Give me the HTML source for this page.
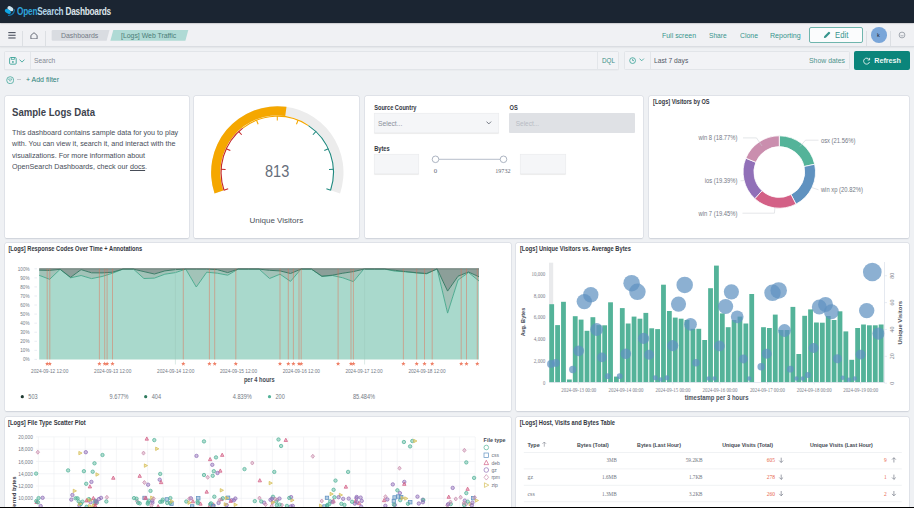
<!DOCTYPE html><html><head><meta charset='utf-8'><style>
*{box-sizing:border-box;margin:0;padding:0}
html,body{width:914px;height:508px;overflow:hidden;background:#eff1f4;font-family:"Liberation Sans", sans-serif;}
.a{position:absolute;white-space:nowrap}
.panel{position:absolute;background:#fff;border-radius:1.5px;box-shadow:0 0.5px 1.5px rgba(60,70,90,0.13),0 0 0 0.5px rgba(200,205,215,0.55)}
.pt{position:absolute;font-weight:bold;font-size:5.7px;color:#343741;white-space:nowrap}
</style></head><body><div class=a style="left:0;top:0;width:914px;height:23px;background:#1b2532;box-shadow:0 0.6px 1.5px rgba(0,0,0,0.35);z-index:2"></div><svg class=a style="left:0;top:0;z-index:3" width="20" height="20" viewBox="0 0 20 20">
<ellipse cx="10.4" cy="8.7" rx="3.2" ry="2.1" transform="rotate(32 10.4 8.7)" fill="#cde4f0"/>
<ellipse cx="7.9" cy="11.4" rx="3.3" ry="2.0" transform="rotate(32 7.9 11.4)" fill="#0ea5e4"/>
<path d="M8.6 15.3 Q13.6 15.2 14.5 9.8" fill="none" stroke="#1677ae" stroke-width="1.2" stroke-linecap="round"/>
</svg><div class=a style="z-index:3;left:16.5px;top:4.9px;font-size:10.8px;font-weight:bold;letter-spacing:-0.3px;transform:scaleX(0.765);transform-origin:0 0;line-height:12px">
<span style="color:#2ea4dc">Open</span><span style="color:#b2d4e6">Search</span> <span style="color:#dfe5ea">Dashboards</span></div><div class=a style="left:0;top:23px;width:914px;height:24.3px;background:#f0f1f4;border-bottom:0.9px solid #dadde2;box-shadow:0 0.8px 1.2px rgba(0,0,0,0.05)"></div><svg class=a style="left:7.5px;top:31.8px" width="8" height="7" viewBox="0 0 8 7"><rect x="0.3" y="0" width="7.3" height="1.15" fill="#535966"/><rect x="0.3" y="2.7" width="7.3" height="1.15" fill="#535966"/><rect x="0.3" y="5.4" width="7.3" height="1.15" fill="#535966"/></svg><div class=a style="left:22.3px;top:30.5px;width:0.6px;height:15.7px;background:#dcdfe3"></div><svg class=a style="left:30px;top:31.5px" width="8" height="7.5" viewBox="0 0 8 7.5"><path d="M0.9 6.9 L0.9 3.4 L4 0.7 L7.1 3.4 L7.1 6.9 Z" fill="none" stroke="#535966" stroke-width="0.85" stroke-linejoin="round"/></svg><div class=a style="left:45.2px;top:30.5px;width:0.6px;height:15.7px;background:#dcdfe3"></div><svg class=a style="left:51px;top:29.7px" width="140" height="11" viewBox="0 0 140 11">
<path d="M2 0 H58.5 L55.6 10.8 H2 Q0.6 10.8 0.6 9.4 V1.4 Q0.6 0 2 0Z" fill="#d9dce1"/>
<path d="M62.3 0 H137.3 L134.4 10.8 H59.4Z" fill="#afdad5"/>
</svg><div class=a style="left:61.3px;top:32.15px;font-size:7.7px;line-height:1;color:#737a86;font-weight:normal;transform:scaleX(0.9);transform-origin:0 0;">Dashboards</div><div class=a style="left:121.4px;top:32.15px;font-size:7.7px;line-height:1;color:#4b7d78;font-weight:normal;transform:scaleX(0.896);transform-origin:0 0;">[Logs] Web Traffic</div><div class=a style="left:662.1px;top:32.15px;font-size:7.7px;line-height:1;color:#37958d;font-weight:normal;transform:scaleX(0.905);transform-origin:0 0;">Full screen</div><div class=a style="left:709.2px;top:32.15px;font-size:7.7px;line-height:1;color:#37958d;font-weight:normal;transform:scaleX(0.857);transform-origin:0 0;">Share</div><div class=a style="left:739.5px;top:32.15px;font-size:7.7px;line-height:1;color:#37958d;font-weight:normal;transform:scaleX(0.895);transform-origin:0 0;">Clone</div><div class=a style="left:769.9px;top:32.15px;font-size:7.7px;line-height:1;color:#37958d;font-weight:normal;transform:scaleX(0.922);transform-origin:0 0;">Reporting</div><div class=a style="left:809px;top:27.2px;width:54.2px;height:15.6px;border:0.9px solid #6fb5ad;border-radius:2px;background:#fbfcfd"></div><svg class=a style="left:823.3px;top:31.3px" width="8" height="8" viewBox="0 0 8 8"><path d="M0.9 7.1 L1.2 5.2 L5.4 1 Q5.9 0.5 6.4 1 L7 1.6 Q7.5 2.1 7 2.6 L2.8 6.8 Z" fill="#37958d"/></svg><div class=a style="left:834.9px;top:31.30px;font-size:8.4px;line-height:1;color:#37958d;font-weight:normal;transform:scaleX(0.92);transform-origin:0 0;">Edit</div><div class=a style="left:866px;top:30.5px;width:0.6px;height:15.7px;background:#dcdfe3"></div><div class=a style="left:871px;top:27px;width:15.6px;height:15.6px;border-radius:50%;background:#7aa6d9"></div><div class=a style="left:877.0px;top:32.75px;font-size:5.5px;line-height:1;color:#1b2532;font-weight:normal;">k</div><div class=a style="left:890.3px;top:30.5px;width:0.6px;height:15.7px;background:#dcdfe3"></div><svg class=a style="left:898px;top:31px" width="8" height="8" viewBox="0 0 8 8"><circle cx="4" cy="4" r="2.9" fill="none" stroke="#8d939d" stroke-width="0.8"/><path d="M2.5 4.3 Q4 5.8 5.5 4.3" fill="none" stroke="#8d939d" stroke-width="0.7"/></svg><div class=a style="left:4.4px;top:50.6px;width:615px;height:19.6px;background:#f2f3f6;border:0.7px solid #e2e5e9;border-radius:1.5px;box-shadow:0 0.6px 0 rgba(0,0,0,0.04)"></div><div class=a style="left:29.8px;top:51.5px;width:0.6px;height:17.4px;background:#e3e6ea"></div><svg class=a style="left:8.6px;top:56.8px" width="8" height="8" viewBox="0 0 8 8"><rect x="0.6" y="0.6" width="6.6" height="6.6" rx="1" fill="none" stroke="#40a59b" stroke-width="0.9"/><rect x="2.3" y="0.6" width="3.2" height="2" fill="none" stroke="#40a59b" stroke-width="0.7"/><circle cx="3.9" cy="4.9" r="0.9" fill="#40a59b"/></svg><svg class=a style="left:19.2px;top:59.3px" width="6" height="4" viewBox="0 0 6 4"><path d="M0.5 0.6 L3 3.1 L5.5 0.6" fill="none" stroke="#40a59b" stroke-width="0.9"/></svg><div class=a style="left:33.6px;top:57.25px;font-size:7.5px;line-height:1;color:#858b95;font-weight:normal;transform:scaleX(0.893);transform-origin:0 0;">Search</div><div class=a style="left:597px;top:51.5px;width:0.6px;height:17.4px;background:#e3e6ea"></div><div class=a style="left:602.4px;top:57.40px;font-size:7.2px;line-height:1;color:#3b8f88;font-weight:normal;transform:scaleX(0.875);transform-origin:0 0;">DQL</div><div class=a style="left:623.8px;top:50.6px;width:226px;height:19.6px;background:#f2f3f6;border:0.7px solid #e2e5e9;border-radius:1.5px"></div><div class=a style="left:649.8px;top:51.5px;width:0.6px;height:17.4px;background:#e3e6ea"></div><svg class=a style="left:628.6px;top:57px" width="8" height="8" viewBox="0 0 8 8"><circle cx="3.6" cy="3.6" r="2.9" fill="none" stroke="#40a59b" stroke-width="0.85"/><path d="M3.6 1.8 V3.6 H5" fill="none" stroke="#40a59b" stroke-width="0.8"/></svg><svg class=a style="left:639px;top:58.3px" width="6" height="4" viewBox="0 0 6 4"><path d="M0.5 0.6 L2.7 2.8 L4.9 0.6" fill="none" stroke="#40a59b" stroke-width="0.85"/></svg><div class=a style="left:654.1px;top:57.25px;font-size:7.5px;line-height:1;color:#535966;font-weight:normal;transform:scaleX(0.893);transform-origin:0 0;">Last 7 days</div><div class=a style="left:809.2px;top:57.25px;font-size:7.5px;line-height:1;color:#4f938d;font-weight:normal;transform:scaleX(0.92);transform-origin:0 0;">Show dates</div><div class=a style="left:853.6px;top:50.9px;width:56.2px;height:18.7px;background:#0b857b;border-radius:2px"></div><svg class=a style="left:862.5px;top:56.5px" width="8" height="8" viewBox="0 0 8 8"><path d="M6.2 2.6 A3 3 0 1 0 6.5 5" fill="none" stroke="#e6f3f1" stroke-width="0.9"/><path d="M6.6 0.9 V3 H4.6" fill="none" stroke="#e6f3f1" stroke-width="0.9"/></svg><div class=a style="left:874.2px;top:57.40px;font-size:7.2px;line-height:1;color:#eef7f6;font-weight:bold;">Refresh</div><svg class=a style="left:5.5px;top:75.5px" width="8.5" height="8.5" viewBox="0 0 8.5 8.5"><circle cx="4.2" cy="4.2" r="3.5" fill="none" stroke="#57b0a6" stroke-width="0.9"/><path d="M2.4 3 H6 L4.2 5.3Z" fill="none" stroke="#57b0a6" stroke-width="0.7"/></svg><div class=a style="left:16.6px;top:79.3px;width:4px;height:0.6px;background:#c5c9d0"></div><div class=a style="left:25.9px;top:76.10px;font-size:7.8px;line-height:1;color:#2a8279;font-weight:normal;transform:scaleX(0.892);transform-origin:0 0;">+ Add filter</div><div class=panel style="left:5px;top:96px;width:184px;height:141.7px"></div><div class=panel style="left:194px;top:96px;width:165.3px;height:141.7px"></div><div class=panel style="left:365.2px;top:96px;width:278.3px;height:141.7px"></div><div class=panel style="left:649px;top:96px;width:260.3px;height:141.7px"></div><div class=panel style="left:5px;top:242.6px;width:506px;height:168.7px"></div><div class=panel style="left:516px;top:242.6px;width:393.3px;height:168.7px"></div><div class=panel style="left:5px;top:417.2px;width:506px;height:100px"></div><div class=panel style="left:516px;top:417.2px;width:393.3px;height:100px"></div><div class=a style="left:12.1px;top:107.90px;font-size:10.2px;line-height:1;color:#3d434d;font-weight:bold;transform:scaleX(0.94);transform-origin:0 0;">Sample Logs Data</div><div class=a style="left:12.1px;top:129.25px;font-size:7.5px;line-height:1;color:#474d58;font-weight:normal;transform:scaleX(0.956);transform-origin:0 0;">This dashboard contains sample data for you to play</div><div class=a style="left:12.1px;top:140.25px;font-size:7.5px;line-height:1;color:#474d58;font-weight:normal;transform:scaleX(0.956);transform-origin:0 0;">with. You can view it, search it, and interact with the</div><div class=a style="left:12.1px;top:152.25px;font-size:7.5px;line-height:1;color:#474d58;font-weight:normal;transform:scaleX(0.956);transform-origin:0 0;">visualizations. For more information about</div><div class=a style="left:12.1px;top:163.25px;font-size:7.5px;line-height:1;color:#474d58;font-weight:normal;transform:scaleX(0.956);transform-origin:0 0;">OpenSearch Dashboards, check our <span style="text-decoration:underline">docs</span>.</div><svg class=a style="left:0;top:0" width="914" height="508" viewBox="0 0 914 508"><path d="M214.52 193.41 A66.2 66.2 0 1 1 340.08 193.41 L331.35 190.49 A57 57 0 1 0 223.25 190.49Z" fill="#ececec"/><path d="M214.52 193.41 A66.2 66.2 0 0 1 286.51 106.84 L285.23 115.95 A57 57 0 0 0 223.25 190.49Z" fill="#f5a700"/><path d="M224.00 190.23 A56.2 56.2 0 0 1 242.72 128.10" fill="none" stroke="#c4292a" stroke-width="1.15"/><path d="M242.72 128.10 A56.2 56.2 0 0 1 308.43 125.61" fill="none" stroke="#f5a700" stroke-width="1.15"/><path d="M308.43 125.61 A56.2 56.2 0 0 1 330.60 190.23" fill="none" stroke="#21897f" stroke-width="1.15"/><line x1="223.81" y1="190.30" x2="228.18" y2="188.84" stroke="#c4292a" stroke-width="1.05"/><line x1="220.99" y1="169.25" x2="225.58" y2="169.51" stroke="#c4292a" stroke-width="1.05"/><line x1="226.14" y1="148.65" x2="230.32" y2="150.59" stroke="#c4292a" stroke-width="1.05"/><line x1="238.55" y1="131.42" x2="241.71" y2="134.76" stroke="#c4292a" stroke-width="1.05"/><line x1="256.45" y1="120.00" x2="258.15" y2="124.27" stroke="#f5a700" stroke-width="1.05"/><line x1="277.30" y1="116.00" x2="277.30" y2="120.60" stroke="#f5a700" stroke-width="1.05"/><line x1="298.15" y1="120.00" x2="296.45" y2="124.27" stroke="#f5a700" stroke-width="1.05"/><line x1="316.05" y1="131.42" x2="312.89" y2="134.76" stroke="#21897f" stroke-width="1.05"/><line x1="328.46" y1="148.65" x2="324.28" y2="150.59" stroke="#21897f" stroke-width="1.05"/><line x1="333.61" y1="169.25" x2="329.02" y2="169.51" stroke="#21897f" stroke-width="1.05"/><line x1="330.79" y1="190.30" x2="326.42" y2="188.84" stroke="#21897f" stroke-width="1.05"/></svg><div class=a style="left:264.8px;top:163.70px;font-size:16.6px;line-height:1;color:#666d7a;font-weight:normal;transform:scaleX(0.875);transform-origin:0 0;">813</div><div class=a style="left:249.6px;top:217.00px;font-size:7.99px;line-height:1;color:#4a505b;font-weight:normal;">Unique Visitors</div><div class=a style="left:373.6px;top:113.4px;width:125px;height:19.3px;background:#f5f6f8;border-radius:1px;box-shadow:0 0.6px 0.8px rgba(0,0,0,0.08), inset 0 0 0 0.5px rgba(0,0,0,0.05)"></div><div class=a style="left:377.9px;top:119.6px;font-size:6.78px;color:#8b919b;line-height:8px">Select...</div><svg class=a style="left:485.7px;top:121.3px" width="6" height="4" viewBox="0 0 6 4"><path d="M0.5 0.6 L2.8 2.9 L5.1 0.6" fill="none" stroke="#535966" stroke-width="0.8"/></svg><div class=a style="left:509px;top:113.4px;width:125.6px;height:19.3px;background:#dfe1e5;border-radius:1px"></div><div class=a style="left:515.7px;top:119.6px;font-size:6.5px;color:#b7bcc4;line-height:8px">Select...</div><div class=a style="left:373.6px;top:154.1px;width:45.6px;height:19.6px;background:#f5f6f8;border-radius:1px;box-shadow:0 0.6px 0.8px rgba(0,0,0,0.08), inset 0 0 0 0.5px rgba(0,0,0,0.05)"></div><div class=a style="left:520.3px;top:154.1px;width:45.4px;height:19.6px;background:#f5f6f8;border-radius:1px;box-shadow:0 0.6px 0.8px rgba(0,0,0,0.08), inset 0 0 0 0.5px rgba(0,0,0,0.05)"></div><svg class=a style="left:0;top:0" width="914" height="508" viewBox="0 0 914 508">
<line x1="438.9" y1="159.3" x2="500.1" y2="159.3" stroke="#98a2b3" stroke-width="0.7"/>
<circle cx="435.5" cy="159.3" r="3.3" fill="#fff" stroke="#98a2b3" stroke-width="0.8"/>
<circle cx="503.5" cy="159.3" r="3.3" fill="#fff" stroke="#98a2b3" stroke-width="0.8"/>
<text x="435.5" y="172.6" font-size="6.8" fill="#626874" text-anchor="middle" font-family="Liberation Serif">0</text>
<text x="502.9" y="172.6" font-size="6.8" fill="#626874" text-anchor="middle" font-family="Liberation Serif" textLength="15.3" lengthAdjust="spacingAndGlyphs">19732</text>
</svg><svg class=a style="left:0;top:0" width="914" height="508" viewBox="0 0 914 508" font-family="Liberation Sans"><text x="653.10" y="103.50" font-size="6.4" fill="#343741" text-anchor="start" font-weight="bold"  textLength="56.5" lengthAdjust="spacingAndGlyphs">[Logs] Visitors by OS</text><text x="8.40" y="251.20" font-size="6.4" fill="#343741" text-anchor="start" font-weight="bold"  textLength="133.8" lengthAdjust="spacingAndGlyphs">[Logs] Response Codes Over Time + Annotations</text><text x="519.90" y="251.20" font-size="6.4" fill="#343741" text-anchor="start" font-weight="bold"  textLength="111" lengthAdjust="spacingAndGlyphs">[Logs] Unique Visitors vs. Average Bytes</text><text x="8.10" y="425.40" font-size="6.4" fill="#343741" text-anchor="start" font-weight="bold"  textLength="77.7" lengthAdjust="spacingAndGlyphs">[Logs] File Type Scatter Plot</text><text x="519.80" y="425.20" font-size="6.4" fill="#343741" text-anchor="start" font-weight="bold"  textLength="95.2" lengthAdjust="spacingAndGlyphs">[Logs] Host, Visits and Bytes Table</text><text x="374.20" y="110.20" font-size="6.3" fill="#343741" text-anchor="start" font-weight="bold"  textLength="42.3" lengthAdjust="spacingAndGlyphs">Source Country</text><text x="509.60" y="110.20" font-size="6.3" fill="#343741" text-anchor="start" font-weight="bold"  textLength="8.19" lengthAdjust="spacingAndGlyphs">OS</text><text x="374.20" y="150.90" font-size="6.3" fill="#343741" text-anchor="start" font-weight="bold"  textLength="15.44" lengthAdjust="spacingAndGlyphs">Bytes</text><path d="M779.30 135.80 A36.2 36.2 0 0 1 814.66 164.24 L804.11 166.56 A25.4 25.4 0 0 0 779.30 146.60Z" fill="#54b399" stroke="#fff" stroke-width="0.8"/><path d="M814.66 164.24 A36.2 36.2 0 0 1 795.97 204.13 L791.00 194.55 A25.4 25.4 0 0 0 804.11 166.56Z" fill="#6092c0" stroke="#fff" stroke-width="0.8"/><path d="M795.97 204.13 A36.2 36.2 0 0 1 754.79 198.64 L762.10 190.69 A25.4 25.4 0 0 0 791.00 194.55Z" fill="#d36086" stroke="#fff" stroke-width="0.8"/><path d="M754.79 198.64 A36.2 36.2 0 0 1 745.84 158.19 L755.82 162.31 A25.4 25.4 0 0 0 762.10 190.69Z" fill="#9170b8" stroke="#fff" stroke-width="0.8"/><path d="M745.84 158.19 A36.2 36.2 0 0 1 779.30 135.80 L779.30 146.60 A25.4 25.4 0 0 0 755.82 162.31Z" fill="#ca8eae" stroke="#fff" stroke-width="0.8"/><polyline points="743,137.9 756.5,137.9 762,146" fill="none" stroke="#c8ccd3" stroke-width="0.5"/><polyline points="818.5,140.2 805.5,140.2 800,146.5" fill="none" stroke="#c8ccd3" stroke-width="0.5"/><polyline points="740.5,180.8 745,180.5" fill="none" stroke="#c8ccd3" stroke-width="0.5"/><polyline points="818.5,189.8 812,187.6" fill="none" stroke="#c8ccd3" stroke-width="0.5"/><polyline points="742.5,213.2 774.4,213.2 775,207" fill="none" stroke="#c8ccd3" stroke-width="0.5"/><text x="737.50" y="140.30" font-size="6.5" fill="#737985" text-anchor="end" font-weight="normal"  textLength="39.02" lengthAdjust="spacingAndGlyphs">win 8 (18.77%)</text><text x="820.90" y="142.60" font-size="6.5" fill="#737985" text-anchor="start" font-weight="normal"  textLength="34.47" lengthAdjust="spacingAndGlyphs">osx (21.56%)</text><text x="737.50" y="183.20" font-size="6.5" fill="#737985" text-anchor="end" font-weight="normal"  textLength="32.84" lengthAdjust="spacingAndGlyphs">ios (19.39%)</text><text x="820.90" y="192.20" font-size="6.5" fill="#737985" text-anchor="start" font-weight="normal"  textLength="41.94" lengthAdjust="spacingAndGlyphs">win xp (20.82%)</text><text x="737.50" y="215.60" font-size="6.5" fill="#737985" text-anchor="end" font-weight="normal"  textLength="39.02" lengthAdjust="spacingAndGlyphs">win 7 (19.45%)</text><text x="29.50" y="361.30" font-size="5.2" fill="#737985" text-anchor="end" font-weight="normal"  textLength="6.61" lengthAdjust="spacingAndGlyphs">0%</text><line x1="34.4" y1="359.40" x2="37" y2="359.40" stroke="#d3dae6" stroke-width="0.5"/><text x="29.50" y="352.24" font-size="5.2" fill="#737985" text-anchor="end" font-weight="normal"  textLength="9.16" lengthAdjust="spacingAndGlyphs">10%</text><line x1="34.4" y1="350.34" x2="37" y2="350.34" stroke="#d3dae6" stroke-width="0.5"/><text x="29.50" y="343.18" font-size="5.2" fill="#737985" text-anchor="end" font-weight="normal"  textLength="9.16" lengthAdjust="spacingAndGlyphs">20%</text><line x1="34.4" y1="341.28" x2="37" y2="341.28" stroke="#d3dae6" stroke-width="0.5"/><text x="29.50" y="334.12" font-size="5.2" fill="#737985" text-anchor="end" font-weight="normal"  textLength="9.16" lengthAdjust="spacingAndGlyphs">30%</text><line x1="34.4" y1="332.22" x2="37" y2="332.22" stroke="#d3dae6" stroke-width="0.5"/><text x="29.50" y="325.06" font-size="5.2" fill="#737985" text-anchor="end" font-weight="normal"  textLength="9.16" lengthAdjust="spacingAndGlyphs">40%</text><line x1="34.4" y1="323.16" x2="37" y2="323.16" stroke="#d3dae6" stroke-width="0.5"/><text x="29.50" y="316.00" font-size="5.2" fill="#737985" text-anchor="end" font-weight="normal"  textLength="9.16" lengthAdjust="spacingAndGlyphs">50%</text><line x1="34.4" y1="314.10" x2="37" y2="314.10" stroke="#d3dae6" stroke-width="0.5"/><text x="29.50" y="306.94" font-size="5.2" fill="#737985" text-anchor="end" font-weight="normal"  textLength="9.16" lengthAdjust="spacingAndGlyphs">60%</text><line x1="34.4" y1="305.04" x2="37" y2="305.04" stroke="#d3dae6" stroke-width="0.5"/><text x="29.50" y="297.88" font-size="5.2" fill="#737985" text-anchor="end" font-weight="normal"  textLength="9.16" lengthAdjust="spacingAndGlyphs">70%</text><line x1="34.4" y1="295.98" x2="37" y2="295.98" stroke="#d3dae6" stroke-width="0.5"/><text x="29.50" y="288.82" font-size="5.2" fill="#737985" text-anchor="end" font-weight="normal"  textLength="9.16" lengthAdjust="spacingAndGlyphs">80%</text><line x1="34.4" y1="286.92" x2="37" y2="286.92" stroke="#d3dae6" stroke-width="0.5"/><text x="29.50" y="279.76" font-size="5.2" fill="#737985" text-anchor="end" font-weight="normal"  textLength="9.16" lengthAdjust="spacingAndGlyphs">90%</text><line x1="34.4" y1="277.86" x2="37" y2="277.86" stroke="#d3dae6" stroke-width="0.5"/><text x="29.50" y="270.70" font-size="5.2" fill="#737985" text-anchor="end" font-weight="normal"  textLength="11.7" lengthAdjust="spacingAndGlyphs">100%</text><line x1="34.4" y1="268.80" x2="37" y2="268.80" stroke="#d3dae6" stroke-width="0.5"/><polygon points="39.2,359.4 39.20,275.30 49.67,279.30 60.14,269.30 70.61,277.80 81.09,275.50 91.56,278.60 102.03,276.50 112.50,273.20 122.97,269.10 133.44,269.10 143.91,278.50 154.39,278.10 164.86,274.20 175.33,272.60 185.80,269.10 196.27,287.00 206.74,272.20 217.21,273.20 227.69,275.20 238.16,269.10 248.63,269.10 259.10,269.10 269.57,278.50 280.04,274.20 290.51,281.40 300.99,269.10 311.46,269.10 321.93,276.50 332.40,275.50 342.87,277.80 353.34,281.60 363.81,269.10 374.29,269.10 384.76,269.10 395.23,271.20 405.70,271.80 416.17,272.90 426.64,273.80 437.11,268.90 447.59,313.10 458.06,280.00 468.53,272.50 479.00,281.00 479.0,359.4" fill="#a9d9cc"/><polygon points="39.20,275.30 49.67,279.30 60.14,269.30 70.61,277.80 81.09,275.50 91.56,278.60 102.03,276.50 112.50,273.20 122.97,269.10 133.44,269.10 143.91,278.50 154.39,278.10 164.86,274.20 175.33,272.60 185.80,269.10 196.27,287.00 206.74,272.20 217.21,273.20 227.69,275.20 238.16,269.10 248.63,269.10 259.10,269.10 269.57,278.50 280.04,274.20 290.51,281.40 300.99,269.10 311.46,269.10 321.93,276.50 332.40,275.50 342.87,277.80 353.34,281.60 363.81,269.10 374.29,269.10 384.76,269.10 395.23,271.20 405.70,271.80 416.17,272.90 426.64,273.80 437.11,268.90 447.59,313.10 458.06,280.00 468.53,272.50 479.00,281.00 479.00,276.80 468.53,272.00 458.06,276.20 447.59,291.10 437.11,268.90 426.64,273.50 416.17,272.70 405.70,271.60 395.23,270.30 384.76,269.10 374.29,269.10 363.81,269.10 353.34,271.60 342.87,273.20 332.40,275.20 321.93,276.20 311.46,269.10 300.99,269.10 290.51,273.50 280.04,270.90 269.57,270.30 259.10,269.10 248.63,269.10 238.16,269.10 227.69,272.60 217.21,269.60 206.74,269.10 196.27,269.10 185.80,269.10 175.33,269.60 164.86,270.90 154.39,274.00 143.91,271.60 133.44,269.10 122.97,269.10 112.50,272.20 102.03,272.90 91.56,272.80 81.09,269.60 70.61,277.30 60.14,269.30 49.67,270.40 39.20,270.20" fill="#a2c3b8"/><polygon points="39.2,268.8 479.0,268.8 479.00,276.80 468.53,272.00 458.06,276.20 447.59,291.10 437.11,268.90 426.64,273.50 416.17,272.70 405.70,271.60 395.23,270.30 384.76,269.10 374.29,269.10 363.81,269.10 353.34,271.60 342.87,273.20 332.40,275.20 321.93,276.20 311.46,269.10 300.99,269.10 290.51,273.50 280.04,270.90 269.57,270.30 259.10,269.10 248.63,269.10 238.16,269.10 227.69,272.60 217.21,269.60 206.74,269.10 196.27,269.10 185.80,269.10 175.33,269.60 164.86,270.90 154.39,274.00 143.91,271.60 133.44,269.10 122.97,269.10 112.50,272.20 102.03,272.90 91.56,272.80 81.09,269.60 70.61,277.30 60.14,269.30 49.67,270.40 39.20,270.20" fill="#8c9f99"/><polyline points="39.20,275.30 49.67,279.30 60.14,269.30 70.61,277.80 81.09,275.50 91.56,278.60 102.03,276.50 112.50,273.20 122.97,269.10 133.44,269.10 143.91,278.50 154.39,278.10 164.86,274.20 175.33,272.60 185.80,269.10 196.27,287.00 206.74,272.20 217.21,273.20 227.69,275.20 238.16,269.10 248.63,269.10 259.10,269.10 269.57,278.50 280.04,274.20 290.51,281.40 300.99,269.10 311.46,269.10 321.93,276.50 332.40,275.50 342.87,277.80 353.34,281.60 363.81,269.10 374.29,269.10 384.76,269.10 395.23,271.20 405.70,271.80 416.17,272.90 426.64,273.80 437.11,268.90 447.59,313.10 458.06,280.00 468.53,272.50 479.00,281.00" fill="none" stroke="#4fac91" stroke-width="1.0"/><polyline points="39.20,270.20 49.67,270.40 60.14,269.30 70.61,277.30 81.09,269.60 91.56,272.80 102.03,272.90 112.50,272.20 122.97,269.10 133.44,269.10 143.91,271.60 154.39,274.00 164.86,270.90 175.33,269.60 185.80,269.10 196.27,269.10 206.74,269.10 217.21,269.60 227.69,272.60 238.16,269.10 248.63,269.10 259.10,269.10 269.57,270.30 280.04,270.90 290.51,273.50 300.99,269.10 311.46,269.10 321.93,276.20 332.40,275.20 342.87,273.20 353.34,271.60 363.81,269.10 374.29,269.10 384.76,269.10 395.23,270.30 405.70,271.60 416.17,272.70 426.64,273.50 437.11,268.90 447.59,291.10 458.06,276.20 468.53,272.00 479.00,276.80" fill="none" stroke="#3c7d68" stroke-width="1.0"/><line x1="39.2" y1="268.8" x2="479.0" y2="268.8" stroke="#5f6f6a" stroke-width="0.9"/><line x1="175.4" y1="268.8" x2="175.4" y2="364.5" stroke="#98c2b5" stroke-width="0.35"/><line x1="364.6" y1="268.8" x2="364.6" y2="364.5" stroke="#98c2b5" stroke-width="0.35"/><line x1="47.2" y1="268.8" x2="47.2" y2="359.4" stroke="#e7664c" stroke-opacity="0.6" stroke-width="0.75"/><polygon points="47.20,361.50 47.79,362.99 49.39,363.09 48.15,364.11 48.55,365.66 47.20,364.80 45.85,365.66 46.25,364.11 45.01,363.09 46.61,362.99" fill="#ee7f66"/><line x1="49.8" y1="268.8" x2="49.8" y2="359.4" stroke="#e7664c" stroke-opacity="0.6" stroke-width="0.75"/><polygon points="49.80,361.50 50.39,362.99 51.99,363.09 50.75,364.11 51.15,365.66 49.80,364.80 48.45,365.66 48.85,364.11 47.61,363.09 49.21,362.99" fill="#ee7f66"/><line x1="99.4" y1="268.8" x2="99.4" y2="359.4" stroke="#e7664c" stroke-opacity="0.6" stroke-width="0.75"/><polygon points="99.40,361.50 99.99,362.99 101.59,363.09 100.35,364.11 100.75,365.66 99.40,364.80 98.05,365.66 98.45,364.11 97.21,363.09 98.81,362.99" fill="#ee7f66"/><line x1="104.7" y1="268.8" x2="104.7" y2="359.4" stroke="#e7664c" stroke-opacity="0.6" stroke-width="0.75"/><polygon points="104.70,361.50 105.29,362.99 106.89,363.09 105.65,364.11 106.05,365.66 104.70,364.80 103.35,365.66 103.75,364.11 102.51,363.09 104.11,362.99" fill="#ee7f66"/><line x1="107.1" y1="268.8" x2="107.1" y2="359.4" stroke="#e7664c" stroke-opacity="0.6" stroke-width="0.75"/><polygon points="107.10,361.50 107.69,362.99 109.29,363.09 108.05,364.11 108.45,365.66 107.10,364.80 105.75,365.66 106.15,364.11 104.91,363.09 106.51,362.99" fill="#ee7f66"/><line x1="112.5" y1="268.8" x2="112.5" y2="359.4" stroke="#e7664c" stroke-opacity="0.6" stroke-width="0.75"/><polygon points="112.50,361.50 113.09,362.99 114.69,363.09 113.45,364.11 113.85,365.66 112.50,364.80 111.15,365.66 111.55,364.11 110.31,363.09 111.91,362.99" fill="#ee7f66"/><line x1="183.3" y1="268.8" x2="183.3" y2="359.4" stroke="#e7664c" stroke-opacity="0.6" stroke-width="0.75"/><polygon points="183.30,361.50 183.89,362.99 185.49,363.09 184.25,364.11 184.65,365.66 183.30,364.80 181.95,365.66 182.35,364.11 181.11,363.09 182.71,362.99" fill="#ee7f66"/><line x1="209.4" y1="268.8" x2="209.4" y2="359.4" stroke="#e7664c" stroke-opacity="0.6" stroke-width="0.75"/><polygon points="209.40,361.50 209.99,362.99 211.59,363.09 210.35,364.11 210.75,365.66 209.40,364.80 208.05,365.66 208.45,364.11 207.21,363.09 208.81,362.99" fill="#ee7f66"/><line x1="214.7" y1="268.8" x2="214.7" y2="359.4" stroke="#e7664c" stroke-opacity="0.6" stroke-width="0.75"/><polygon points="214.70,361.50 215.29,362.99 216.89,363.09 215.65,364.11 216.05,365.66 214.70,364.80 213.35,365.66 213.75,364.11 212.51,363.09 214.11,362.99" fill="#ee7f66"/><line x1="235.8" y1="268.8" x2="235.8" y2="359.4" stroke="#e7664c" stroke-opacity="0.6" stroke-width="0.75"/><polygon points="235.80,361.50 236.39,362.99 237.99,363.09 236.75,364.11 237.15,365.66 235.80,364.80 234.45,365.66 234.85,364.11 233.61,363.09 235.21,362.99" fill="#ee7f66"/><line x1="280" y1="268.8" x2="280" y2="359.4" stroke="#e7664c" stroke-opacity="0.6" stroke-width="0.75"/><polygon points="280.00,361.50 280.59,362.99 282.19,363.09 280.95,364.11 281.35,365.66 280.00,364.80 278.65,365.66 279.05,364.11 277.81,363.09 279.41,362.99" fill="#ee7f66"/><line x1="288.3" y1="268.8" x2="288.3" y2="359.4" stroke="#e7664c" stroke-opacity="0.6" stroke-width="0.75"/><polygon points="288.30,361.50 288.89,362.99 290.49,363.09 289.25,364.11 289.65,365.66 288.30,364.80 286.95,365.66 287.35,364.11 286.11,363.09 287.71,362.99" fill="#ee7f66"/><line x1="293.4" y1="268.8" x2="293.4" y2="359.4" stroke="#e7664c" stroke-opacity="0.6" stroke-width="0.75"/><polygon points="293.40,361.50 293.99,362.99 295.59,363.09 294.35,364.11 294.75,365.66 293.40,364.80 292.05,365.66 292.45,364.11 291.21,363.09 292.81,362.99" fill="#ee7f66"/><line x1="299" y1="268.8" x2="299" y2="359.4" stroke="#e7664c" stroke-opacity="0.6" stroke-width="0.75"/><polygon points="299.00,361.50 299.59,362.99 301.19,363.09 299.95,364.11 300.35,365.66 299.00,364.80 297.65,365.66 298.05,364.11 296.81,363.09 298.41,362.99" fill="#ee7f66"/><line x1="301.2" y1="268.8" x2="301.2" y2="359.4" stroke="#e7664c" stroke-opacity="0.6" stroke-width="0.75"/><polygon points="301.20,361.50 301.79,362.99 303.39,363.09 302.15,364.11 302.55,365.66 301.20,364.80 299.85,365.66 300.25,364.11 299.01,363.09 300.61,362.99" fill="#ee7f66"/><line x1="338.1" y1="268.8" x2="338.1" y2="359.4" stroke="#e7664c" stroke-opacity="0.6" stroke-width="0.75"/><polygon points="338.10,361.50 338.69,362.99 340.29,363.09 339.05,364.11 339.45,365.66 338.10,364.80 336.75,365.66 337.15,364.11 335.91,363.09 337.51,362.99" fill="#ee7f66"/><line x1="351" y1="268.8" x2="351" y2="359.4" stroke="#e7664c" stroke-opacity="0.6" stroke-width="0.75"/><polygon points="351.00,361.50 351.59,362.99 353.19,363.09 351.95,364.11 352.35,365.66 351.00,364.80 349.65,365.66 350.05,364.11 348.81,363.09 350.41,362.99" fill="#ee7f66"/><line x1="353.4" y1="268.8" x2="353.4" y2="359.4" stroke="#e7664c" stroke-opacity="0.6" stroke-width="0.75"/><polygon points="353.40,361.50 353.99,362.99 355.59,363.09 354.35,364.11 354.75,365.66 353.40,364.80 352.05,365.66 352.45,364.11 351.21,363.09 352.81,362.99" fill="#ee7f66"/><line x1="403.4" y1="268.8" x2="403.4" y2="359.4" stroke="#e7664c" stroke-opacity="0.6" stroke-width="0.75"/><polygon points="403.40,361.50 403.99,362.99 405.59,363.09 404.35,364.11 404.75,365.66 403.40,364.80 402.05,365.66 402.45,364.11 401.21,363.09 402.81,362.99" fill="#ee7f66"/><line x1="416.7" y1="268.8" x2="416.7" y2="359.4" stroke="#e7664c" stroke-opacity="0.6" stroke-width="0.75"/><polygon points="416.70,361.50 417.29,362.99 418.89,363.09 417.65,364.11 418.05,365.66 416.70,364.80 415.35,365.66 415.75,364.11 414.51,363.09 416.11,362.99" fill="#ee7f66"/><line x1="424.5" y1="268.8" x2="424.5" y2="359.4" stroke="#e7664c" stroke-opacity="0.6" stroke-width="0.75"/><polygon points="424.50,361.50 425.09,362.99 426.69,363.09 425.45,364.11 425.85,365.66 424.50,364.80 423.15,365.66 423.55,364.11 422.31,363.09 423.91,362.99" fill="#ee7f66"/><line x1="432.2" y1="268.8" x2="432.2" y2="359.4" stroke="#e7664c" stroke-opacity="0.6" stroke-width="0.75"/><polygon points="432.20,361.50 432.79,362.99 434.39,363.09 433.15,364.11 433.55,365.66 432.20,364.80 430.85,365.66 431.25,364.11 430.01,363.09 431.61,362.99" fill="#ee7f66"/><line x1="461.2" y1="268.8" x2="461.2" y2="359.4" stroke="#e7664c" stroke-opacity="0.6" stroke-width="0.75"/><polygon points="461.20,361.50 461.79,362.99 463.39,363.09 462.15,364.11 462.55,365.66 461.20,364.80 459.85,365.66 460.25,364.11 459.01,363.09 460.61,362.99" fill="#ee7f66"/><line x1="466.5" y1="268.8" x2="466.5" y2="359.4" stroke="#e7664c" stroke-opacity="0.6" stroke-width="0.75"/><polygon points="466.50,361.50 467.09,362.99 468.69,363.09 467.45,364.11 467.85,365.66 466.50,364.80 465.15,365.66 465.55,364.11 464.31,363.09 465.91,362.99" fill="#ee7f66"/><line x1="477.3" y1="268.8" x2="477.3" y2="359.4" stroke="#e7664c" stroke-opacity="0.6" stroke-width="0.75"/><polygon points="477.30,361.50 477.89,362.99 479.49,363.09 478.25,364.11 478.65,365.66 477.30,364.80 475.95,365.66 476.35,364.11 475.11,363.09 476.71,362.99" fill="#ee7f66"/><text x="49.70" y="373.40" font-size="5.2" fill="#737985" text-anchor="middle" font-weight="normal"  textLength="37.24" lengthAdjust="spacingAndGlyphs">2024-09-12 12:00</text><text x="112.70" y="373.40" font-size="5.2" fill="#737985" text-anchor="middle" font-weight="normal"  textLength="37.24" lengthAdjust="spacingAndGlyphs">2024-09-13 12:00</text><text x="175.70" y="373.40" font-size="5.2" fill="#737985" text-anchor="middle" font-weight="normal"  textLength="37.24" lengthAdjust="spacingAndGlyphs">2024-09-14 12:00</text><text x="238.50" y="373.40" font-size="5.2" fill="#737985" text-anchor="middle" font-weight="normal"  textLength="37.24" lengthAdjust="spacingAndGlyphs">2024-09-15 12:00</text><text x="301.30" y="373.40" font-size="5.2" fill="#737985" text-anchor="middle" font-weight="normal"  textLength="37.24" lengthAdjust="spacingAndGlyphs">2024-09-16 12:00</text><text x="364.00" y="373.40" font-size="5.2" fill="#737985" text-anchor="middle" font-weight="normal"  textLength="37.24" lengthAdjust="spacingAndGlyphs">2024-09-17 12:00</text><text x="427.00" y="373.40" font-size="5.2" fill="#737985" text-anchor="middle" font-weight="normal"  textLength="37.24" lengthAdjust="spacingAndGlyphs">2024-09-18 12:00</text><text x="259.30" y="381.80" font-size="6.4" fill="#454b56" text-anchor="middle" font-weight="bold"  textLength="30.8" lengthAdjust="spacingAndGlyphs">per 4 hours</text><circle cx="22.3" cy="396.7" r="1.6" fill="#1e3a30"/><text x="28.30" y="399.20" font-size="6.4" fill="#747a85" text-anchor="start" font-weight="normal"  textLength="9.34" lengthAdjust="spacingAndGlyphs">503</text><text x="128.60" y="399.20" font-size="6.4" fill="#747a85" text-anchor="end" font-weight="normal"  textLength="18.99" lengthAdjust="spacingAndGlyphs">9.677%</text><circle cx="145.7" cy="396.7" r="1.6" fill="#2f7a5e"/><text x="151.70" y="399.20" font-size="6.4" fill="#747a85" text-anchor="start" font-weight="normal"  textLength="9.34" lengthAdjust="spacingAndGlyphs">404</text><text x="251.80" y="399.20" font-size="6.4" fill="#747a85" text-anchor="end" font-weight="normal"  textLength="18.99" lengthAdjust="spacingAndGlyphs">4.839%</text><circle cx="269.5" cy="396.7" r="1.6" fill="#54b399"/><text x="275.50" y="399.20" font-size="6.4" fill="#747a85" text-anchor="start" font-weight="normal"  textLength="9.34" lengthAdjust="spacingAndGlyphs">200</text><text x="375.00" y="399.20" font-size="6.4" fill="#747a85" text-anchor="end" font-weight="normal"  textLength="22.11" lengthAdjust="spacingAndGlyphs">85.484%</text><rect x="549" y="262.7" width="4.2" height="119.5" fill="#e9eaec"/><text x="545.30" y="384.80" font-size="6.0" fill="#7a808a" text-anchor="end" font-weight="normal"  textLength="2.3" lengthAdjust="spacingAndGlyphs" font-family="Liberation Serif">0</text><text x="545.30" y="362.98" font-size="6.0" fill="#7a808a" text-anchor="end" font-weight="normal"  textLength="11.5" lengthAdjust="spacingAndGlyphs" font-family="Liberation Serif">2,000</text><text x="545.30" y="341.16" font-size="6.0" fill="#7a808a" text-anchor="end" font-weight="normal"  textLength="11.5" lengthAdjust="spacingAndGlyphs" font-family="Liberation Serif">4,000</text><text x="545.30" y="319.34" font-size="6.0" fill="#7a808a" text-anchor="end" font-weight="normal"  textLength="11.5" lengthAdjust="spacingAndGlyphs" font-family="Liberation Serif">6,000</text><text x="545.30" y="297.52" font-size="6.0" fill="#7a808a" text-anchor="end" font-weight="normal"  textLength="11.5" lengthAdjust="spacingAndGlyphs" font-family="Liberation Serif">8,000</text><text x="545.30" y="275.70" font-size="6.0" fill="#7a808a" text-anchor="end" font-weight="normal"  textLength="13.8" lengthAdjust="spacingAndGlyphs" font-family="Liberation Serif">10,000</text><rect x="549.30" y="304.20" width="4.8" height="78.00" fill="#54b399"/><rect x="555.18" y="325.10" width="4.8" height="57.10" fill="#54b399"/><rect x="561.07" y="301.80" width="4.8" height="80.40" fill="#54b399"/><rect x="566.95" y="379.50" width="4.8" height="2.70" fill="#54b399"/><rect x="572.83" y="316.20" width="4.8" height="66.00" fill="#54b399"/><rect x="578.71" y="319.60" width="4.8" height="62.60" fill="#54b399"/><rect x="584.60" y="330.80" width="4.8" height="51.40" fill="#54b399"/><rect x="590.48" y="317.20" width="4.8" height="65.00" fill="#54b399"/><rect x="596.36" y="325.10" width="4.8" height="57.10" fill="#54b399"/><rect x="602.25" y="325.30" width="4.8" height="56.90" fill="#54b399"/><rect x="608.13" y="302.30" width="4.8" height="79.90" fill="#54b399"/><rect x="614.01" y="376.60" width="4.8" height="5.60" fill="#54b399"/><rect x="619.90" y="308.10" width="4.8" height="74.10" fill="#54b399"/><rect x="625.78" y="323.50" width="4.8" height="58.70" fill="#54b399"/><rect x="631.66" y="316.60" width="4.8" height="65.60" fill="#54b399"/><rect x="637.54" y="318.70" width="4.8" height="63.50" fill="#54b399"/><rect x="643.43" y="312.90" width="4.8" height="69.30" fill="#54b399"/><rect x="649.31" y="328.30" width="4.8" height="53.90" fill="#54b399"/><rect x="655.19" y="329.10" width="4.8" height="53.10" fill="#54b399"/><rect x="661.08" y="284.70" width="4.8" height="97.50" fill="#54b399"/><rect x="666.96" y="311.00" width="4.8" height="71.20" fill="#54b399"/><rect x="672.84" y="317.60" width="4.8" height="64.60" fill="#54b399"/><rect x="678.73" y="318.70" width="4.8" height="63.50" fill="#54b399"/><rect x="684.61" y="320.00" width="4.8" height="62.20" fill="#54b399"/><rect x="690.49" y="328.80" width="4.8" height="53.40" fill="#54b399"/><rect x="696.38" y="328.80" width="4.8" height="53.40" fill="#54b399"/><rect x="702.26" y="340.00" width="4.8" height="42.20" fill="#54b399"/><rect x="708.14" y="288.20" width="4.8" height="94.00" fill="#54b399"/><rect x="714.02" y="265.60" width="4.8" height="116.60" fill="#54b399"/><rect x="719.91" y="313.40" width="4.8" height="68.80" fill="#54b399"/><rect x="725.79" y="327.20" width="4.8" height="55.00" fill="#54b399"/><rect x="731.67" y="320.00" width="4.8" height="62.20" fill="#54b399"/><rect x="737.56" y="316.60" width="4.8" height="65.60" fill="#54b399"/><rect x="743.44" y="323.50" width="4.8" height="58.70" fill="#54b399"/><rect x="749.32" y="294.00" width="4.8" height="88.20" fill="#54b399"/><rect x="761.09" y="327.20" width="4.8" height="55.00" fill="#54b399"/><rect x="766.97" y="328.00" width="4.8" height="54.20" fill="#54b399"/><rect x="772.85" y="314.60" width="4.8" height="67.60" fill="#54b399"/><rect x="778.74" y="330.00" width="4.8" height="52.20" fill="#54b399"/><rect x="784.62" y="330.00" width="4.8" height="52.20" fill="#54b399"/><rect x="790.50" y="306.90" width="4.8" height="75.30" fill="#54b399"/><rect x="796.39" y="354.00" width="4.8" height="28.20" fill="#54b399"/><rect x="802.27" y="315.80" width="4.8" height="66.40" fill="#54b399"/><rect x="808.15" y="309.40" width="4.8" height="72.80" fill="#54b399"/><rect x="814.03" y="322.50" width="4.8" height="59.70" fill="#54b399"/><rect x="819.92" y="322.70" width="4.8" height="59.50" fill="#54b399"/><rect x="825.80" y="316.00" width="4.8" height="66.20" fill="#54b399"/><rect x="831.68" y="320.00" width="4.8" height="62.20" fill="#54b399"/><rect x="837.57" y="311.30" width="4.8" height="70.90" fill="#54b399"/><rect x="843.45" y="331.40" width="4.8" height="50.80" fill="#54b399"/><rect x="849.33" y="359.80" width="4.8" height="22.40" fill="#54b399"/><rect x="855.22" y="328.00" width="4.8" height="54.20" fill="#54b399"/><rect x="861.10" y="324.50" width="4.8" height="57.70" fill="#54b399"/><rect x="866.98" y="325.30" width="4.8" height="56.90" fill="#54b399"/><rect x="872.87" y="325.30" width="4.8" height="56.90" fill="#54b399"/><rect x="878.75" y="324.50" width="4.8" height="57.70" fill="#54b399"/><line x1="549" y1="382.5" x2="884.5" y2="382.5" stroke="#d3dae6" stroke-width="0.6"/><circle cx="551" cy="363.9" r="3.96" fill="#6092c0" fill-opacity="0.72"/><circle cx="555.8" cy="362.9" r="3.96" fill="#6092c0" fill-opacity="0.72"/><circle cx="572.7" cy="369.5" r="3.63" fill="#6092c0" fill-opacity="0.72"/><circle cx="578.7" cy="350.8" r="5.39" fill="#6092c0" fill-opacity="0.72"/><circle cx="584.3" cy="301.6" r="7.70" fill="#6092c0" fill-opacity="0.72"/><circle cx="590.8" cy="294.7" r="7.70" fill="#6092c0" fill-opacity="0.72"/><circle cx="596.7" cy="329.5" r="6.38" fill="#6092c0" fill-opacity="0.72"/><circle cx="601.9" cy="357.4" r="4.84" fill="#6092c0" fill-opacity="0.72"/><circle cx="607.8" cy="376.2" r="2.86" fill="#6092c0" fill-opacity="0.72"/><circle cx="619.7" cy="376.2" r="2.86" fill="#6092c0" fill-opacity="0.72"/><circle cx="625.8" cy="353.8" r="5.28" fill="#6092c0" fill-opacity="0.72"/><circle cx="631.6" cy="283.2" r="8.25" fill="#6092c0" fill-opacity="0.72"/><circle cx="637.4" cy="291.8" r="8.25" fill="#6092c0" fill-opacity="0.72"/><circle cx="643.6" cy="338.4" r="5.61" fill="#6092c0" fill-opacity="0.72"/><circle cx="649.1" cy="354.8" r="4.95" fill="#6092c0" fill-opacity="0.72"/><circle cx="655.3" cy="377.8" r="2.53" fill="#6092c0" fill-opacity="0.72"/><circle cx="660.7" cy="379.5" r="2.20" fill="#6092c0" fill-opacity="0.72"/><circle cx="666.9" cy="377.8" r="2.53" fill="#6092c0" fill-opacity="0.72"/><circle cx="672.7" cy="345.6" r="5.61" fill="#6092c0" fill-opacity="0.72"/><circle cx="678.5" cy="304.1" r="7.59" fill="#6092c0" fill-opacity="0.72"/><circle cx="684.7" cy="284.9" r="8.25" fill="#6092c0" fill-opacity="0.72"/><circle cx="690.5" cy="324.3" r="6.38" fill="#6092c0" fill-opacity="0.72"/><circle cx="696" cy="362.7" r="3.74" fill="#6092c0" fill-opacity="0.72"/><circle cx="708.7" cy="378.5" r="2.20" fill="#6092c0" fill-opacity="0.72"/><circle cx="714.4" cy="378.5" r="2.20" fill="#6092c0" fill-opacity="0.72"/><circle cx="719.5" cy="345.9" r="5.28" fill="#6092c0" fill-opacity="0.72"/><circle cx="725.6" cy="306.5" r="7.59" fill="#6092c0" fill-opacity="0.72"/><circle cx="731.4" cy="291.8" r="7.59" fill="#6092c0" fill-opacity="0.72"/><circle cx="737.2" cy="316.8" r="6.38" fill="#6092c0" fill-opacity="0.72"/><circle cx="743.4" cy="358.9" r="4.51" fill="#6092c0" fill-opacity="0.72"/><circle cx="749.2" cy="378.5" r="2.20" fill="#6092c0" fill-opacity="0.72"/><circle cx="761.2" cy="366.8" r="3.74" fill="#6092c0" fill-opacity="0.72"/><circle cx="766.7" cy="353.8" r="4.95" fill="#6092c0" fill-opacity="0.72"/><circle cx="772.5" cy="292.8" r="8.25" fill="#6092c0" fill-opacity="0.72"/><circle cx="778.7" cy="290.4" r="8.25" fill="#6092c0" fill-opacity="0.72"/><circle cx="784.5" cy="330.5" r="6.38" fill="#6092c0" fill-opacity="0.72"/><circle cx="790.3" cy="369.2" r="3.41" fill="#6092c0" fill-opacity="0.72"/><circle cx="796.5" cy="378.5" r="2.20" fill="#6092c0" fill-opacity="0.72"/><circle cx="802.7" cy="378.5" r="2.20" fill="#6092c0" fill-opacity="0.72"/><circle cx="807.8" cy="375" r="2.97" fill="#6092c0" fill-opacity="0.72"/><circle cx="813.6" cy="348" r="4.95" fill="#6092c0" fill-opacity="0.72"/><circle cx="819.3" cy="307" r="7.48" fill="#6092c0" fill-opacity="0.72"/><circle cx="825.5" cy="304.4" r="7.48" fill="#6092c0" fill-opacity="0.72"/><circle cx="831.4" cy="311.8" r="7.48" fill="#6092c0" fill-opacity="0.72"/><circle cx="837.4" cy="358.7" r="4.51" fill="#6092c0" fill-opacity="0.72"/><circle cx="842.7" cy="377.8" r="2.20" fill="#6092c0" fill-opacity="0.72"/><circle cx="848.9" cy="379.8" r="2.20" fill="#6092c0" fill-opacity="0.72"/><circle cx="854.7" cy="378.5" r="2.20" fill="#6092c0" fill-opacity="0.72"/><circle cx="860.6" cy="354.6" r="4.95" fill="#6092c0" fill-opacity="0.72"/><circle cx="866.7" cy="310.6" r="7.70" fill="#6092c0" fill-opacity="0.72"/><circle cx="872.3" cy="272" r="9.35" fill="#6092c0" fill-opacity="0.72"/><circle cx="878.5" cy="333.6" r="6.05" fill="#6092c0" fill-opacity="0.72"/><line x1="884.5" y1="262" x2="884.5" y2="383" stroke="#d3dae6" stroke-width="0.6"/><line x1="884.5" y1="383.20" x2="887" y2="383.20" stroke="#d3dae6" stroke-width="0.5"/><text x="0.00" y="0.00" font-size="6.0" fill="#7a808a" text-anchor="middle" font-weight="normal" transform="translate(893.7 383.20) rotate(-90)" font-family="Liberation Serif">0</text><line x1="884.5" y1="356.33" x2="887" y2="356.33" stroke="#d3dae6" stroke-width="0.5"/><text x="0.00" y="0.00" font-size="6.0" fill="#7a808a" text-anchor="middle" font-weight="normal" transform="translate(893.7 356.33) rotate(-90)" font-family="Liberation Serif">20</text><line x1="884.5" y1="329.46" x2="887" y2="329.46" stroke="#d3dae6" stroke-width="0.5"/><text x="0.00" y="0.00" font-size="6.0" fill="#7a808a" text-anchor="middle" font-weight="normal" transform="translate(893.7 329.46) rotate(-90)" font-family="Liberation Serif">40</text><line x1="884.5" y1="302.59" x2="887" y2="302.59" stroke="#d3dae6" stroke-width="0.5"/><text x="0.00" y="0.00" font-size="6.0" fill="#7a808a" text-anchor="middle" font-weight="normal" transform="translate(893.7 302.59) rotate(-90)" font-family="Liberation Serif">60</text><line x1="884.5" y1="275.72" x2="887" y2="275.72" stroke="#d3dae6" stroke-width="0.5"/><text x="0.00" y="0.00" font-size="6.0" fill="#7a808a" text-anchor="middle" font-weight="normal" transform="translate(893.7 275.72) rotate(-90)" font-family="Liberation Serif">80</text><line x1="578.8" y1="382.2" x2="578.8" y2="384.4" stroke="#d3dae6" stroke-width="0.5"/><text x="578.80" y="391.60" font-size="6.0" fill="#7a808a" text-anchor="middle" font-weight="normal"  textLength="34.9" lengthAdjust="spacingAndGlyphs" font-family="Liberation Serif">2024-09-13 00:00</text><line x1="626" y1="382.2" x2="626" y2="384.4" stroke="#d3dae6" stroke-width="0.5"/><text x="626.00" y="391.60" font-size="6.0" fill="#7a808a" text-anchor="middle" font-weight="normal"  textLength="34.9" lengthAdjust="spacingAndGlyphs" font-family="Liberation Serif">2024-09-14 00:00</text><line x1="673" y1="382.2" x2="673" y2="384.4" stroke="#d3dae6" stroke-width="0.5"/><text x="673.00" y="391.60" font-size="6.0" fill="#7a808a" text-anchor="middle" font-weight="normal"  textLength="34.9" lengthAdjust="spacingAndGlyphs" font-family="Liberation Serif">2024-09-15 00:00</text><line x1="720" y1="382.2" x2="720" y2="384.4" stroke="#d3dae6" stroke-width="0.5"/><text x="720.00" y="391.60" font-size="6.0" fill="#7a808a" text-anchor="middle" font-weight="normal"  textLength="34.9" lengthAdjust="spacingAndGlyphs" font-family="Liberation Serif">2024-09-16 00:00</text><line x1="767.4" y1="382.2" x2="767.4" y2="384.4" stroke="#d3dae6" stroke-width="0.5"/><text x="767.40" y="391.60" font-size="6.0" fill="#7a808a" text-anchor="middle" font-weight="normal"  textLength="34.9" lengthAdjust="spacingAndGlyphs" font-family="Liberation Serif">2024-09-17 00:00</text><line x1="814.2" y1="382.2" x2="814.2" y2="384.4" stroke="#d3dae6" stroke-width="0.5"/><text x="814.20" y="391.60" font-size="6.0" fill="#7a808a" text-anchor="middle" font-weight="normal"  textLength="34.9" lengthAdjust="spacingAndGlyphs" font-family="Liberation Serif">2024-09-18 00:00</text><line x1="860.7" y1="382.2" x2="860.7" y2="384.4" stroke="#d3dae6" stroke-width="0.5"/><text x="860.70" y="391.60" font-size="6.0" fill="#7a808a" text-anchor="middle" font-weight="normal"  textLength="34.9" lengthAdjust="spacingAndGlyphs" font-family="Liberation Serif">2024-09-19 00:00</text><text x="716.60" y="400.30" font-size="6.4" fill="#4d535e" text-anchor="middle" font-weight="bold"  textLength="63.8" lengthAdjust="spacingAndGlyphs">timestamp per 3 hours</text><text x="0.00" y="0.00" font-size="5.6" fill="#454b56" text-anchor="middle" font-weight="bold" transform="translate(525.2 322) rotate(-90)">Avg. Bytes</text><text x="0.00" y="0.00" font-size="5.6" fill="#4d535e" text-anchor="middle" font-weight="bold" transform="translate(902.4 322.7) rotate(-90)" textLength="43.4" lengthAdjust="spacingAndGlyphs">Unique Visitors</text><line x1="36" y1="436.90" x2="475.20" y2="436.90" stroke="#eceef2" stroke-width="0.6"/><line x1="36" y1="449.18" x2="475.20" y2="449.18" stroke="#eceef2" stroke-width="0.6"/><line x1="36" y1="461.46" x2="475.20" y2="461.46" stroke="#eceef2" stroke-width="0.6"/><line x1="36" y1="473.74" x2="475.20" y2="473.74" stroke="#eceef2" stroke-width="0.6"/><line x1="36" y1="486.02" x2="475.20" y2="486.02" stroke="#eceef2" stroke-width="0.6"/><line x1="36" y1="498.30" x2="475.20" y2="498.30" stroke="#eceef2" stroke-width="0.6"/><line x1="36" y1="510.58" x2="475.20" y2="510.58" stroke="#eceef2" stroke-width="0.6"/><line x1="38.40" y1="436.9" x2="38.40" y2="508" stroke="#eceef2" stroke-width="0.6"/><line x1="54.00" y1="436.9" x2="54.00" y2="508" stroke="#eceef2" stroke-width="0.6"/><line x1="69.60" y1="436.9" x2="69.60" y2="508" stroke="#eceef2" stroke-width="0.6"/><line x1="85.20" y1="436.9" x2="85.20" y2="508" stroke="#eceef2" stroke-width="0.6"/><line x1="100.80" y1="436.9" x2="100.80" y2="508" stroke="#eceef2" stroke-width="0.6"/><line x1="116.40" y1="436.9" x2="116.40" y2="508" stroke="#eceef2" stroke-width="0.6"/><line x1="132.00" y1="436.9" x2="132.00" y2="508" stroke="#eceef2" stroke-width="0.6"/><line x1="147.60" y1="436.9" x2="147.60" y2="508" stroke="#eceef2" stroke-width="0.6"/><line x1="163.20" y1="436.9" x2="163.20" y2="508" stroke="#eceef2" stroke-width="0.6"/><line x1="178.80" y1="436.9" x2="178.80" y2="508" stroke="#eceef2" stroke-width="0.6"/><line x1="194.40" y1="436.9" x2="194.40" y2="508" stroke="#eceef2" stroke-width="0.6"/><line x1="210.00" y1="436.9" x2="210.00" y2="508" stroke="#eceef2" stroke-width="0.6"/><line x1="225.60" y1="436.9" x2="225.60" y2="508" stroke="#eceef2" stroke-width="0.6"/><line x1="241.20" y1="436.9" x2="241.20" y2="508" stroke="#eceef2" stroke-width="0.6"/><line x1="256.80" y1="436.9" x2="256.80" y2="508" stroke="#eceef2" stroke-width="0.6"/><line x1="272.40" y1="436.9" x2="272.40" y2="508" stroke="#eceef2" stroke-width="0.6"/><line x1="288.00" y1="436.9" x2="288.00" y2="508" stroke="#eceef2" stroke-width="0.6"/><line x1="303.60" y1="436.9" x2="303.60" y2="508" stroke="#eceef2" stroke-width="0.6"/><line x1="319.20" y1="436.9" x2="319.20" y2="508" stroke="#eceef2" stroke-width="0.6"/><line x1="334.80" y1="436.9" x2="334.80" y2="508" stroke="#eceef2" stroke-width="0.6"/><line x1="350.40" y1="436.9" x2="350.40" y2="508" stroke="#eceef2" stroke-width="0.6"/><line x1="366.00" y1="436.9" x2="366.00" y2="508" stroke="#eceef2" stroke-width="0.6"/><line x1="381.60" y1="436.9" x2="381.60" y2="508" stroke="#eceef2" stroke-width="0.6"/><line x1="397.20" y1="436.9" x2="397.20" y2="508" stroke="#eceef2" stroke-width="0.6"/><line x1="412.80" y1="436.9" x2="412.80" y2="508" stroke="#eceef2" stroke-width="0.6"/><line x1="428.40" y1="436.9" x2="428.40" y2="508" stroke="#eceef2" stroke-width="0.6"/><line x1="444.00" y1="436.9" x2="444.00" y2="508" stroke="#eceef2" stroke-width="0.6"/><line x1="459.60" y1="436.9" x2="459.60" y2="508" stroke="#eceef2" stroke-width="0.6"/><line x1="475.20" y1="436.9" x2="475.20" y2="508" stroke="#eceef2" stroke-width="0.6"/><text x="32.80" y="439.00" font-size="5.6" fill="#737985" text-anchor="end" font-weight="normal"  textLength="14.56" lengthAdjust="spacingAndGlyphs">20,000</text><text x="32.80" y="451.28" font-size="5.6" fill="#737985" text-anchor="end" font-weight="normal"  textLength="14.56" lengthAdjust="spacingAndGlyphs">18,000</text><text x="32.80" y="463.56" font-size="5.6" fill="#737985" text-anchor="end" font-weight="normal"  textLength="14.56" lengthAdjust="spacingAndGlyphs">16,000</text><text x="32.80" y="475.84" font-size="5.6" fill="#737985" text-anchor="end" font-weight="normal"  textLength="14.56" lengthAdjust="spacingAndGlyphs">14,000</text><text x="32.80" y="488.12" font-size="5.6" fill="#737985" text-anchor="end" font-weight="normal"  textLength="14.56" lengthAdjust="spacingAndGlyphs">12,000</text><text x="32.80" y="500.40" font-size="5.6" fill="#737985" text-anchor="end" font-weight="normal"  textLength="14.56" lengthAdjust="spacingAndGlyphs">10,000</text><text x="0.00" y="0.00" font-size="5.6" fill="#343741" text-anchor="end" font-weight="bold" transform="translate(15.5 476.5) rotate(-90)">Transferred bytes</text><path d="M146.80 436.93 L148.50 440.16 L145.10 440.16Z" fill="#d36086" fill-opacity="0.45" stroke="#d36086" stroke-width="0.75"/><circle cx="154.30" cy="440.10" r="1.70" fill="#54b399" fill-opacity="0.45" stroke="#54b399" stroke-width="0.75"/><path d="M155.64 447.10 L158.87 448.80 L155.64 450.50Z" fill="#d6bf57" fill-opacity="0.45" stroke="#d6bf57" stroke-width="0.75"/><path d="M37.80 450.16 L39.50 452.20 L37.80 454.24 L36.10 452.20Z" fill="#ca8eae" fill-opacity="0.45" stroke="#ca8eae" stroke-width="0.75"/><path d="M78.84 451.40 L82.07 453.10 L78.84 454.80Z" fill="#d6bf57" fill-opacity="0.45" stroke="#d6bf57" stroke-width="0.75"/><circle cx="85.80" cy="452.20" r="1.70" fill="#9170b8" fill-opacity="0.45" stroke="#9170b8" stroke-width="0.75"/><circle cx="102.50" cy="455.00" r="1.70" fill="#54b399" fill-opacity="0.45" stroke="#54b399" stroke-width="0.75"/><path d="M143.50 451.06 L145.20 453.10 L143.50 455.14 L141.80 453.10Z" fill="#ca8eae" fill-opacity="0.45" stroke="#ca8eae" stroke-width="0.75"/><circle cx="196.50" cy="455.90" r="1.70" fill="#9170b8" fill-opacity="0.45" stroke="#9170b8" stroke-width="0.75"/><circle cx="94.50" cy="463.30" r="1.70" fill="#54b399" fill-opacity="0.45" stroke="#54b399" stroke-width="0.75"/><path d="M144.34 463.90 L147.57 465.60 L144.34 467.30Z" fill="#d6bf57" fill-opacity="0.45" stroke="#d6bf57" stroke-width="0.75"/><circle cx="68.10" cy="470.40" r="1.70" fill="#54b399" fill-opacity="0.45" stroke="#54b399" stroke-width="0.75"/><circle cx="83.90" cy="471.20" r="1.70" fill="#54b399" fill-opacity="0.45" stroke="#54b399" stroke-width="0.75"/><circle cx="92.70" cy="471.70" r="1.70" fill="#54b399" fill-opacity="0.45" stroke="#54b399" stroke-width="0.75"/><path d="M95.94 472.80 L99.17 474.50 L95.94 476.20Z" fill="#d6bf57" fill-opacity="0.45" stroke="#d6bf57" stroke-width="0.75"/><circle cx="36.10" cy="473.60" r="1.70" fill="#54b399" fill-opacity="0.45" stroke="#54b399" stroke-width="0.75"/><path d="M113.30 476.03 L115.00 479.26 L111.60 479.26Z" fill="#d36086" fill-opacity="0.45" stroke="#d36086" stroke-width="0.75"/><path d="M139.70 474.13 L141.40 477.36 L138.00 477.36Z" fill="#d36086" fill-opacity="0.45" stroke="#d36086" stroke-width="0.75"/><circle cx="160.20" cy="473.90" r="1.70" fill="#54b399" fill-opacity="0.45" stroke="#54b399" stroke-width="0.75"/><circle cx="159.70" cy="479.70" r="1.70" fill="#9170b8" fill-opacity="0.45" stroke="#9170b8" stroke-width="0.75"/><path d="M161.10 480.43 L162.80 483.66 L159.40 483.66Z" fill="#d36086" fill-opacity="0.45" stroke="#d36086" stroke-width="0.75"/><path d="M144.40 480.46 L146.10 482.50 L144.40 484.54 L142.70 482.50Z" fill="#ca8eae" fill-opacity="0.45" stroke="#ca8eae" stroke-width="0.75"/><circle cx="148.10" cy="484.70" r="1.70" fill="#9170b8" fill-opacity="0.45" stroke="#9170b8" stroke-width="0.75"/><circle cx="86.20" cy="483.80" r="1.70" fill="#54b399" fill-opacity="0.45" stroke="#54b399" stroke-width="0.75"/><circle cx="91.40" cy="481.90" r="1.70" fill="#9170b8" fill-opacity="0.45" stroke="#9170b8" stroke-width="0.75"/><path d="M89.90 484.73 L91.60 487.96 L88.20 487.96Z" fill="#d36086" fill-opacity="0.45" stroke="#d36086" stroke-width="0.75"/><path d="M73.24 489.20 L76.47 490.90 L73.24 492.60Z" fill="#d6bf57" fill-opacity="0.45" stroke="#d6bf57" stroke-width="0.75"/><circle cx="72.40" cy="495.00" r="1.70" fill="#9170b8" fill-opacity="0.45" stroke="#9170b8" stroke-width="0.75"/><circle cx="71.30" cy="499.60" r="1.70" fill="#9170b8" fill-opacity="0.45" stroke="#9170b8" stroke-width="0.75"/><circle cx="75.60" cy="498.30" r="1.70" fill="#54b399" fill-opacity="0.45" stroke="#54b399" stroke-width="0.75"/><circle cx="77.50" cy="498.30" r="1.70" fill="#54b399" fill-opacity="0.45" stroke="#54b399" stroke-width="0.75"/><circle cx="150.50" cy="490.90" r="1.70" fill="#54b399" fill-opacity="0.45" stroke="#54b399" stroke-width="0.75"/><circle cx="190.90" cy="498.30" r="1.70" fill="#9170b8" fill-opacity="0.45" stroke="#9170b8" stroke-width="0.75"/><circle cx="186.30" cy="501.50" r="1.70" fill="#54b399" fill-opacity="0.45" stroke="#54b399" stroke-width="0.75"/><rect x="196.60" y="496.60" width="3.40" height="3.40" fill="#6092c0" fill-opacity="0.45" stroke="#6092c0" stroke-width="0.75"/><circle cx="204.00" cy="441.40" r="1.70" fill="#54b399" fill-opacity="0.45" stroke="#54b399" stroke-width="0.75"/><path d="M210.10 457.43 L211.80 460.66 L208.40 460.66Z" fill="#d36086" fill-opacity="0.45" stroke="#d36086" stroke-width="0.75"/><circle cx="216.00" cy="457.40" r="1.70" fill="#54b399" fill-opacity="0.45" stroke="#54b399" stroke-width="0.75"/><path d="M222.20 453.13 L223.90 456.36 L220.50 456.36Z" fill="#d36086" fill-opacity="0.45" stroke="#d36086" stroke-width="0.75"/><circle cx="212.30" cy="464.80" r="1.70" fill="#9170b8" fill-opacity="0.45" stroke="#9170b8" stroke-width="0.75"/><circle cx="213.80" cy="471.20" r="1.70" fill="#54b399" fill-opacity="0.45" stroke="#54b399" stroke-width="0.75"/><path d="M220.30 468.93 L222.00 472.16 L218.60 472.16Z" fill="#d36086" fill-opacity="0.45" stroke="#d36086" stroke-width="0.75"/><circle cx="217.50" cy="473.00" r="1.70" fill="#9170b8" fill-opacity="0.45" stroke="#9170b8" stroke-width="0.75"/><circle cx="204.00" cy="475.00" r="1.70" fill="#54b399" fill-opacity="0.45" stroke="#54b399" stroke-width="0.75"/><path d="M207.70 475.26 L209.40 477.30 L207.70 479.34 L206.00 477.30Z" fill="#ca8eae" fill-opacity="0.45" stroke="#ca8eae" stroke-width="0.75"/><circle cx="212.70" cy="475.80" r="1.70" fill="#54b399" fill-opacity="0.45" stroke="#54b399" stroke-width="0.75"/><circle cx="244.50" cy="469.10" r="1.70" fill="#54b399" fill-opacity="0.45" stroke="#54b399" stroke-width="0.75"/><path d="M252.30 460.96 L254.00 463.00 L252.30 465.04 L250.60 463.00Z" fill="#ca8eae" fill-opacity="0.45" stroke="#ca8eae" stroke-width="0.75"/><circle cx="278.50" cy="439.50" r="1.70" fill="#54b399" fill-opacity="0.45" stroke="#54b399" stroke-width="0.75"/><path d="M285.80 438.23 L287.50 441.46 L284.10 441.46Z" fill="#d36086" fill-opacity="0.45" stroke="#d36086" stroke-width="0.75"/><circle cx="281.10" cy="446.00" r="1.70" fill="#54b399" fill-opacity="0.45" stroke="#54b399" stroke-width="0.75"/><circle cx="274.30" cy="471.90" r="1.70" fill="#54b399" fill-opacity="0.45" stroke="#54b399" stroke-width="0.75"/><path d="M259.80 478.63 L261.50 481.86 L258.10 481.86Z" fill="#d36086" fill-opacity="0.45" stroke="#d36086" stroke-width="0.75"/><path d="M269.14 481.40 L272.37 483.10 L269.14 484.80Z" fill="#d6bf57" fill-opacity="0.45" stroke="#d6bf57" stroke-width="0.75"/><path d="M312.80 454.26 L314.50 456.30 L312.80 458.34 L311.10 456.30Z" fill="#ca8eae" fill-opacity="0.45" stroke="#ca8eae" stroke-width="0.75"/><circle cx="348.10" cy="471.90" r="1.70" fill="#54b399" fill-opacity="0.45" stroke="#54b399" stroke-width="0.75"/><circle cx="335.50" cy="480.60" r="1.70" fill="#54b399" fill-opacity="0.45" stroke="#54b399" stroke-width="0.75"/><path d="M345.90 484.93 L347.60 488.16 L344.20 488.16Z" fill="#d36086" fill-opacity="0.45" stroke="#d36086" stroke-width="0.75"/><circle cx="333.60" cy="489.80" r="1.70" fill="#54b399" fill-opacity="0.45" stroke="#54b399" stroke-width="0.75"/><path d="M330.04 492.30 L333.27 494.00 L330.04 495.70Z" fill="#d6bf57" fill-opacity="0.45" stroke="#d6bf57" stroke-width="0.75"/><path d="M339.34 493.30 L342.57 495.00 L339.34 496.70Z" fill="#d6bf57" fill-opacity="0.45" stroke="#d6bf57" stroke-width="0.75"/><path d="M206.70 489.93 L208.40 493.16 L205.00 493.16Z" fill="#d36086" fill-opacity="0.45" stroke="#d36086" stroke-width="0.75"/><path d="M220.24 488.60 L223.47 490.30 L220.24 492.00Z" fill="#d6bf57" fill-opacity="0.45" stroke="#d6bf57" stroke-width="0.75"/><circle cx="403.90" cy="442.00" r="1.70" fill="#54b399" fill-opacity="0.45" stroke="#54b399" stroke-width="0.75"/><circle cx="412.30" cy="441.00" r="1.70" fill="#54b399" fill-opacity="0.45" stroke="#54b399" stroke-width="0.75"/><path d="M413.74 439.30 L416.97 441.00 L413.74 442.70Z" fill="#d6bf57" fill-opacity="0.45" stroke="#d6bf57" stroke-width="0.75"/><circle cx="410.10" cy="446.40" r="1.70" fill="#54b399" fill-opacity="0.45" stroke="#54b399" stroke-width="0.75"/><path d="M464.40 448.26 L466.10 450.30 L464.40 452.34 L462.70 450.30Z" fill="#ca8eae" fill-opacity="0.45" stroke="#ca8eae" stroke-width="0.75"/><circle cx="466.30" cy="462.40" r="1.70" fill="#54b399" fill-opacity="0.45" stroke="#54b399" stroke-width="0.75"/><circle cx="474.10" cy="477.90" r="1.70" fill="#54b399" fill-opacity="0.45" stroke="#54b399" stroke-width="0.75"/><path d="M399.50 466.16 L401.20 468.20 L399.50 470.24 L397.80 468.20Z" fill="#ca8eae" fill-opacity="0.45" stroke="#ca8eae" stroke-width="0.75"/><circle cx="392.80" cy="484.40" r="1.70" fill="#9170b8" fill-opacity="0.45" stroke="#9170b8" stroke-width="0.75"/><circle cx="404.30" cy="481.90" r="1.70" fill="#9170b8" fill-opacity="0.45" stroke="#9170b8" stroke-width="0.75"/><path d="M404.30 482.13 L406.00 485.36 L402.60 485.36Z" fill="#d36086" fill-opacity="0.45" stroke="#d36086" stroke-width="0.75"/><circle cx="397.40" cy="490.30" r="1.70" fill="#54b399" fill-opacity="0.45" stroke="#54b399" stroke-width="0.75"/><circle cx="399.90" cy="493.10" r="1.70" fill="#9170b8" fill-opacity="0.45" stroke="#9170b8" stroke-width="0.75"/><circle cx="452.70" cy="487.90" r="1.70" fill="#9170b8" fill-opacity="0.45" stroke="#9170b8" stroke-width="0.75"/><path d="M467.60 487.13 L469.30 490.36 L465.90 490.36Z" fill="#d36086" fill-opacity="0.45" stroke="#d36086" stroke-width="0.75"/><circle cx="466.30" cy="493.10" r="1.70" fill="#54b399" fill-opacity="0.45" stroke="#54b399" stroke-width="0.75"/><circle cx="38.59" cy="498.08" r="1.70" fill="#54b399" fill-opacity="0.45" stroke="#54b399" stroke-width="0.75"/><path d="M36.58 500.26 L38.28 503.49 L34.88 503.49Z" fill="#d36086" fill-opacity="0.45" stroke="#d36086" stroke-width="0.75"/><circle cx="40.66" cy="506.05" r="1.70" fill="#9170b8" fill-opacity="0.45" stroke="#9170b8" stroke-width="0.75"/><circle cx="36.30" cy="501.05" r="1.70" fill="#54b399" fill-opacity="0.45" stroke="#54b399" stroke-width="0.75"/><circle cx="37.93" cy="502.29" r="1.70" fill="#54b399" fill-opacity="0.45" stroke="#54b399" stroke-width="0.75"/><circle cx="42.61" cy="497.80" r="1.70" fill="#9170b8" fill-opacity="0.45" stroke="#9170b8" stroke-width="0.75"/><circle cx="96.92" cy="502.62" r="1.70" fill="#54b399" fill-opacity="0.45" stroke="#54b399" stroke-width="0.75"/><circle cx="95.31" cy="500.67" r="1.70" fill="#9170b8" fill-opacity="0.45" stroke="#9170b8" stroke-width="0.75"/><circle cx="79.40" cy="505.51" r="1.70" fill="#9170b8" fill-opacity="0.45" stroke="#9170b8" stroke-width="0.75"/><circle cx="90.57" cy="502.18" r="1.70" fill="#9170b8" fill-opacity="0.45" stroke="#9170b8" stroke-width="0.75"/><circle cx="94.81" cy="503.66" r="1.70" fill="#54b399" fill-opacity="0.45" stroke="#54b399" stroke-width="0.75"/><path d="M95.45 501.34 L97.15 504.57 L93.75 504.57Z" fill="#d36086" fill-opacity="0.45" stroke="#d36086" stroke-width="0.75"/><circle cx="80.92" cy="503.98" r="1.70" fill="#54b399" fill-opacity="0.45" stroke="#54b399" stroke-width="0.75"/><path d="M96.57 499.67 L98.27 501.71 L96.57 503.75 L94.87 501.71Z" fill="#ca8eae" fill-opacity="0.45" stroke="#ca8eae" stroke-width="0.75"/><path d="M89.47 498.10 L92.70 499.80 L89.47 501.50Z" fill="#d6bf57" fill-opacity="0.45" stroke="#d6bf57" stroke-width="0.75"/><circle cx="88.85" cy="499.11" r="1.70" fill="#54b399" fill-opacity="0.45" stroke="#54b399" stroke-width="0.75"/><circle cx="98.97" cy="499.06" r="1.70" fill="#9170b8" fill-opacity="0.45" stroke="#9170b8" stroke-width="0.75"/><path d="M92.40 503.99 L95.63 505.69 L92.40 507.39Z" fill="#d6bf57" fill-opacity="0.45" stroke="#d6bf57" stroke-width="0.75"/><circle cx="86.64" cy="506.79" r="1.70" fill="#54b399" fill-opacity="0.45" stroke="#54b399" stroke-width="0.75"/><path d="M93.36 496.36 L95.06 499.59 L91.66 499.59Z" fill="#d36086" fill-opacity="0.45" stroke="#d36086" stroke-width="0.75"/><circle cx="82.56" cy="501.63" r="1.70" fill="#54b399" fill-opacity="0.45" stroke="#54b399" stroke-width="0.75"/><path d="M106.86 495.28 L108.56 497.32 L106.86 499.36 L105.16 497.32Z" fill="#ca8eae" fill-opacity="0.45" stroke="#ca8eae" stroke-width="0.75"/><path d="M95.19 503.82 L96.89 507.05 L93.49 507.05Z" fill="#d36086" fill-opacity="0.45" stroke="#d36086" stroke-width="0.75"/><path d="M86.84 498.48 L90.07 500.18 L86.84 501.88Z" fill="#d6bf57" fill-opacity="0.45" stroke="#d6bf57" stroke-width="0.75"/><circle cx="95.40" cy="501.29" r="1.70" fill="#54b399" fill-opacity="0.45" stroke="#54b399" stroke-width="0.75"/><circle cx="106.34" cy="501.48" r="1.70" fill="#54b399" fill-opacity="0.45" stroke="#54b399" stroke-width="0.75"/><path d="M78.46 502.17 L81.69 503.87 L78.46 505.57Z" fill="#d6bf57" fill-opacity="0.45" stroke="#d6bf57" stroke-width="0.75"/><path d="M86.54 498.68 L88.24 501.91 L84.84 501.91Z" fill="#d36086" fill-opacity="0.45" stroke="#d36086" stroke-width="0.75"/><circle cx="78.68" cy="501.35" r="1.70" fill="#54b399" fill-opacity="0.45" stroke="#54b399" stroke-width="0.75"/><circle cx="96.33" cy="501.68" r="1.70" fill="#9170b8" fill-opacity="0.45" stroke="#9170b8" stroke-width="0.75"/><circle cx="101.05" cy="497.86" r="1.70" fill="#9170b8" fill-opacity="0.45" stroke="#9170b8" stroke-width="0.75"/><path d="M88.58 504.43 L91.81 506.13 L88.58 507.83Z" fill="#d6bf57" fill-opacity="0.45" stroke="#d6bf57" stroke-width="0.75"/><path d="M137.06 499.18 L138.76 501.22 L137.06 503.26 L135.36 501.22Z" fill="#ca8eae" fill-opacity="0.45" stroke="#ca8eae" stroke-width="0.75"/><rect x="142.86" y="496.24" width="3.40" height="3.40" fill="#6092c0" fill-opacity="0.45" stroke="#6092c0" stroke-width="0.75"/><rect x="165.13" y="497.72" width="3.40" height="3.40" fill="#6092c0" fill-opacity="0.45" stroke="#6092c0" stroke-width="0.75"/><rect x="169.79" y="501.97" width="3.40" height="3.40" fill="#6092c0" fill-opacity="0.45" stroke="#6092c0" stroke-width="0.75"/><circle cx="170.39" cy="498.08" r="1.70" fill="#54b399" fill-opacity="0.45" stroke="#54b399" stroke-width="0.75"/><circle cx="139.75" cy="503.41" r="1.70" fill="#54b399" fill-opacity="0.45" stroke="#54b399" stroke-width="0.75"/><circle cx="152.43" cy="502.69" r="1.70" fill="#9170b8" fill-opacity="0.45" stroke="#9170b8" stroke-width="0.75"/><path d="M144.71 495.99 L146.41 498.03 L144.71 500.07 L143.01 498.03Z" fill="#ca8eae" fill-opacity="0.45" stroke="#ca8eae" stroke-width="0.75"/><circle cx="148.03" cy="502.45" r="1.70" fill="#54b399" fill-opacity="0.45" stroke="#54b399" stroke-width="0.75"/><circle cx="160.24" cy="501.91" r="1.70" fill="#54b399" fill-opacity="0.45" stroke="#54b399" stroke-width="0.75"/><path d="M151.35 503.61 L153.05 505.65 L151.35 507.69 L149.65 505.65Z" fill="#ca8eae" fill-opacity="0.45" stroke="#ca8eae" stroke-width="0.75"/><circle cx="148.91" cy="500.69" r="1.70" fill="#54b399" fill-opacity="0.45" stroke="#54b399" stroke-width="0.75"/><circle cx="152.30" cy="500.70" r="1.70" fill="#9170b8" fill-opacity="0.45" stroke="#9170b8" stroke-width="0.75"/><circle cx="136.56" cy="498.69" r="1.70" fill="#54b399" fill-opacity="0.45" stroke="#54b399" stroke-width="0.75"/><circle cx="138.18" cy="502.81" r="1.70" fill="#54b399" fill-opacity="0.45" stroke="#54b399" stroke-width="0.75"/><circle cx="134.01" cy="498.09" r="1.70" fill="#54b399" fill-opacity="0.45" stroke="#54b399" stroke-width="0.75"/><circle cx="170.06" cy="502.94" r="1.70" fill="#54b399" fill-opacity="0.45" stroke="#54b399" stroke-width="0.75"/><circle cx="167.22" cy="502.95" r="1.70" fill="#54b399" fill-opacity="0.45" stroke="#54b399" stroke-width="0.75"/><path d="M158.11 504.66 L159.81 507.89 L156.41 507.89Z" fill="#d36086" fill-opacity="0.45" stroke="#d36086" stroke-width="0.75"/><path d="M150.66 496.01 L153.89 497.71 L150.66 499.41Z" fill="#d6bf57" fill-opacity="0.45" stroke="#d6bf57" stroke-width="0.75"/><path d="M170.38 499.69 L173.61 501.39 L170.38 503.09Z" fill="#d6bf57" fill-opacity="0.45" stroke="#d6bf57" stroke-width="0.75"/><path d="M145.85 496.14 L147.55 499.37 L144.15 499.37Z" fill="#d36086" fill-opacity="0.45" stroke="#d36086" stroke-width="0.75"/><circle cx="162.13" cy="501.53" r="1.70" fill="#54b399" fill-opacity="0.45" stroke="#54b399" stroke-width="0.75"/><path d="M153.62 496.61 L155.32 498.65 L153.62 500.69 L151.92 498.65Z" fill="#ca8eae" fill-opacity="0.45" stroke="#ca8eae" stroke-width="0.75"/><circle cx="147.75" cy="503.75" r="1.70" fill="#54b399" fill-opacity="0.45" stroke="#54b399" stroke-width="0.75"/><circle cx="162.81" cy="499.63" r="1.70" fill="#54b399" fill-opacity="0.45" stroke="#54b399" stroke-width="0.75"/><path d="M221.42 497.37 L223.12 500.60 L219.72 500.60Z" fill="#d36086" fill-opacity="0.45" stroke="#d36086" stroke-width="0.75"/><circle cx="231.60" cy="500.23" r="1.70" fill="#9170b8" fill-opacity="0.45" stroke="#9170b8" stroke-width="0.75"/><path d="M213.56 502.81 L215.26 506.04 L211.86 506.04Z" fill="#d36086" fill-opacity="0.45" stroke="#d36086" stroke-width="0.75"/><circle cx="218.55" cy="502.94" r="1.70" fill="#9170b8" fill-opacity="0.45" stroke="#9170b8" stroke-width="0.75"/><circle cx="226.69" cy="505.09" r="1.70" fill="#9170b8" fill-opacity="0.45" stroke="#9170b8" stroke-width="0.75"/><circle cx="197.60" cy="501.67" r="1.70" fill="#54b399" fill-opacity="0.45" stroke="#54b399" stroke-width="0.75"/><path d="M234.14 503.10 L237.37 504.80 L234.14 506.50Z" fill="#d6bf57" fill-opacity="0.45" stroke="#d6bf57" stroke-width="0.75"/><path d="M200.44 501.90 L202.14 505.13 L198.74 505.13Z" fill="#d36086" fill-opacity="0.45" stroke="#d36086" stroke-width="0.75"/><path d="M209.47 504.47 L211.17 507.70 L207.77 507.70Z" fill="#d36086" fill-opacity="0.45" stroke="#d36086" stroke-width="0.75"/><circle cx="233.84" cy="500.33" r="1.70" fill="#9170b8" fill-opacity="0.45" stroke="#9170b8" stroke-width="0.75"/><path d="M192.90 499.57 L194.60 502.80 L191.20 502.80Z" fill="#d36086" fill-opacity="0.45" stroke="#d36086" stroke-width="0.75"/><circle cx="197.81" cy="503.05" r="1.70" fill="#54b399" fill-opacity="0.45" stroke="#54b399" stroke-width="0.75"/><circle cx="211.01" cy="503.36" r="1.70" fill="#54b399" fill-opacity="0.45" stroke="#54b399" stroke-width="0.75"/><rect x="226.36" y="496.06" width="3.40" height="3.40" fill="#6092c0" fill-opacity="0.45" stroke="#6092c0" stroke-width="0.75"/><path d="M224.19 502.68 L227.42 504.38 L224.19 506.08Z" fill="#d6bf57" fill-opacity="0.45" stroke="#d6bf57" stroke-width="0.75"/><path d="M230.67 499.19 L232.37 502.42 L228.97 502.42Z" fill="#d36086" fill-opacity="0.45" stroke="#d36086" stroke-width="0.75"/><rect x="190.46" y="504.73" width="3.40" height="3.40" fill="#6092c0" fill-opacity="0.45" stroke="#6092c0" stroke-width="0.75"/><circle cx="210.23" cy="504.31" r="1.70" fill="#54b399" fill-opacity="0.45" stroke="#54b399" stroke-width="0.75"/><circle cx="222.79" cy="498.29" r="1.70" fill="#54b399" fill-opacity="0.45" stroke="#54b399" stroke-width="0.75"/><path d="M187.96 501.00 L191.19 502.70 L187.96 504.40Z" fill="#d6bf57" fill-opacity="0.45" stroke="#d6bf57" stroke-width="0.75"/><path d="M225.35 496.33 L228.58 498.03 L225.35 499.73Z" fill="#d6bf57" fill-opacity="0.45" stroke="#d6bf57" stroke-width="0.75"/><path d="M219.55 498.14 L221.25 500.18 L219.55 502.22 L217.85 500.18Z" fill="#ca8eae" fill-opacity="0.45" stroke="#ca8eae" stroke-width="0.75"/><circle cx="214.32" cy="496.72" r="1.70" fill="#54b399" fill-opacity="0.45" stroke="#54b399" stroke-width="0.75"/><rect x="211.58" y="504.60" width="3.40" height="3.40" fill="#6092c0" fill-opacity="0.45" stroke="#6092c0" stroke-width="0.75"/><circle cx="235.35" cy="498.55" r="1.70" fill="#9170b8" fill-opacity="0.45" stroke="#9170b8" stroke-width="0.75"/><path d="M189.34 496.69 L191.04 498.73 L189.34 500.77 L187.64 498.73Z" fill="#ca8eae" fill-opacity="0.45" stroke="#ca8eae" stroke-width="0.75"/><circle cx="264.10" cy="502.66" r="1.70" fill="#9170b8" fill-opacity="0.45" stroke="#9170b8" stroke-width="0.75"/><circle cx="276.86" cy="505.26" r="1.70" fill="#54b399" fill-opacity="0.45" stroke="#54b399" stroke-width="0.75"/><path d="M290.86 498.51 L294.09 500.21 L290.86 501.91Z" fill="#d6bf57" fill-opacity="0.45" stroke="#d6bf57" stroke-width="0.75"/><path d="M281.82 503.02 L283.52 505.06 L281.82 507.10 L280.12 505.06Z" fill="#ca8eae" fill-opacity="0.45" stroke="#ca8eae" stroke-width="0.75"/><path d="M271.67 504.10 L273.37 506.14 L271.67 508.18 L269.97 506.14Z" fill="#ca8eae" fill-opacity="0.45" stroke="#ca8eae" stroke-width="0.75"/><path d="M259.49 496.05 L261.19 498.09 L259.49 500.13 L257.79 498.09Z" fill="#ca8eae" fill-opacity="0.45" stroke="#ca8eae" stroke-width="0.75"/><circle cx="254.79" cy="501.12" r="1.70" fill="#54b399" fill-opacity="0.45" stroke="#54b399" stroke-width="0.75"/><circle cx="279.56" cy="504.65" r="1.70" fill="#54b399" fill-opacity="0.45" stroke="#54b399" stroke-width="0.75"/><circle cx="261.24" cy="501.47" r="1.70" fill="#54b399" fill-opacity="0.45" stroke="#54b399" stroke-width="0.75"/><path d="M277.37 497.88 L279.07 499.92 L277.37 501.96 L275.67 499.92Z" fill="#ca8eae" fill-opacity="0.45" stroke="#ca8eae" stroke-width="0.75"/><circle cx="276.29" cy="501.57" r="1.70" fill="#54b399" fill-opacity="0.45" stroke="#54b399" stroke-width="0.75"/><circle cx="291.10" cy="497.10" r="1.70" fill="#9170b8" fill-opacity="0.45" stroke="#9170b8" stroke-width="0.75"/><path d="M265.63 502.57 L267.33 504.61 L265.63 506.65 L263.93 504.61Z" fill="#ca8eae" fill-opacity="0.45" stroke="#ca8eae" stroke-width="0.75"/><circle cx="272.99" cy="496.79" r="1.70" fill="#54b399" fill-opacity="0.45" stroke="#54b399" stroke-width="0.75"/><path d="M272.62 500.89 L274.32 502.93 L272.62 504.97 L270.92 502.93Z" fill="#ca8eae" fill-opacity="0.45" stroke="#ca8eae" stroke-width="0.75"/><circle cx="279.46" cy="498.59" r="1.70" fill="#9170b8" fill-opacity="0.45" stroke="#9170b8" stroke-width="0.75"/><path d="M271.64 500.40 L274.87 502.10 L271.64 503.80Z" fill="#d6bf57" fill-opacity="0.45" stroke="#d6bf57" stroke-width="0.75"/><path d="M275.33 497.06 L277.03 499.10 L275.33 501.14 L273.63 499.10Z" fill="#ca8eae" fill-opacity="0.45" stroke="#ca8eae" stroke-width="0.75"/><circle cx="290.81" cy="506.39" r="1.70" fill="#9170b8" fill-opacity="0.45" stroke="#9170b8" stroke-width="0.75"/><circle cx="292.76" cy="505.87" r="1.70" fill="#9170b8" fill-opacity="0.45" stroke="#9170b8" stroke-width="0.75"/><circle cx="289.28" cy="497.94" r="1.70" fill="#54b399" fill-opacity="0.45" stroke="#54b399" stroke-width="0.75"/><circle cx="270.48" cy="499.82" r="1.70" fill="#9170b8" fill-opacity="0.45" stroke="#9170b8" stroke-width="0.75"/><circle cx="271.99" cy="498.73" r="1.70" fill="#9170b8" fill-opacity="0.45" stroke="#9170b8" stroke-width="0.75"/><circle cx="286.93" cy="505.92" r="1.70" fill="#54b399" fill-opacity="0.45" stroke="#54b399" stroke-width="0.75"/><path d="M359.10 501.39 L360.80 504.62 L357.40 504.62Z" fill="#d36086" fill-opacity="0.45" stroke="#d36086" stroke-width="0.75"/><path d="M319.50 504.07 L322.73 505.77 L319.50 507.47Z" fill="#d6bf57" fill-opacity="0.45" stroke="#d6bf57" stroke-width="0.75"/><rect x="322.84" y="504.80" width="3.40" height="3.40" fill="#6092c0" fill-opacity="0.45" stroke="#6092c0" stroke-width="0.75"/><circle cx="356.48" cy="498.21" r="1.70" fill="#9170b8" fill-opacity="0.45" stroke="#9170b8" stroke-width="0.75"/><path d="M321.75 498.99 L323.45 501.03 L321.75 503.07 L320.05 501.03Z" fill="#ca8eae" fill-opacity="0.45" stroke="#ca8eae" stroke-width="0.75"/><path d="M333.38 499.05 L335.08 502.28 L331.68 502.28Z" fill="#d36086" fill-opacity="0.45" stroke="#d36086" stroke-width="0.75"/><circle cx="329.29" cy="504.08" r="1.70" fill="#54b399" fill-opacity="0.45" stroke="#54b399" stroke-width="0.75"/><circle cx="330.22" cy="501.32" r="1.70" fill="#54b399" fill-opacity="0.45" stroke="#54b399" stroke-width="0.75"/><circle cx="332.45" cy="501.93" r="1.70" fill="#9170b8" fill-opacity="0.45" stroke="#9170b8" stroke-width="0.75"/><circle cx="338.59" cy="497.18" r="1.70" fill="#9170b8" fill-opacity="0.45" stroke="#9170b8" stroke-width="0.75"/><circle cx="360.64" cy="497.60" r="1.70" fill="#9170b8" fill-opacity="0.45" stroke="#9170b8" stroke-width="0.75"/><circle cx="327.05" cy="506.01" r="1.70" fill="#54b399" fill-opacity="0.45" stroke="#54b399" stroke-width="0.75"/><rect x="325.28" y="496.16" width="3.40" height="3.40" fill="#6092c0" fill-opacity="0.45" stroke="#6092c0" stroke-width="0.75"/><circle cx="354.78" cy="503.60" r="1.70" fill="#9170b8" fill-opacity="0.45" stroke="#9170b8" stroke-width="0.75"/><path d="M333.49 500.09 L335.19 502.13 L333.49 504.17 L331.79 502.13Z" fill="#ca8eae" fill-opacity="0.45" stroke="#ca8eae" stroke-width="0.75"/><circle cx="341.39" cy="503.85" r="1.70" fill="#54b399" fill-opacity="0.45" stroke="#54b399" stroke-width="0.75"/><circle cx="327.39" cy="504.90" r="1.70" fill="#54b399" fill-opacity="0.45" stroke="#54b399" stroke-width="0.75"/><circle cx="334.42" cy="497.26" r="1.70" fill="#54b399" fill-opacity="0.45" stroke="#54b399" stroke-width="0.75"/><circle cx="344.45" cy="504.92" r="1.70" fill="#54b399" fill-opacity="0.45" stroke="#54b399" stroke-width="0.75"/><circle cx="343.19" cy="498.84" r="1.70" fill="#9170b8" fill-opacity="0.45" stroke="#9170b8" stroke-width="0.75"/><path d="M355.41 499.39 L357.11 502.62 L353.71 502.62Z" fill="#d36086" fill-opacity="0.45" stroke="#d36086" stroke-width="0.75"/><circle cx="361.73" cy="500.89" r="1.70" fill="#9170b8" fill-opacity="0.45" stroke="#9170b8" stroke-width="0.75"/><circle cx="356.70" cy="496.95" r="1.70" fill="#9170b8" fill-opacity="0.45" stroke="#9170b8" stroke-width="0.75"/><circle cx="361.13" cy="506.68" r="1.70" fill="#9170b8" fill-opacity="0.45" stroke="#9170b8" stroke-width="0.75"/><circle cx="348.71" cy="498.62" r="1.70" fill="#9170b8" fill-opacity="0.45" stroke="#9170b8" stroke-width="0.75"/><circle cx="356.80" cy="502.08" r="1.70" fill="#9170b8" fill-opacity="0.45" stroke="#9170b8" stroke-width="0.75"/><circle cx="352.06" cy="501.75" r="1.70" fill="#54b399" fill-opacity="0.45" stroke="#54b399" stroke-width="0.75"/><circle cx="394.82" cy="504.94" r="1.70" fill="#9170b8" fill-opacity="0.45" stroke="#9170b8" stroke-width="0.75"/><path d="M385.48 494.65 L387.18 496.69 L385.48 498.73 L383.78 496.69Z" fill="#ca8eae" fill-opacity="0.45" stroke="#ca8eae" stroke-width="0.75"/><path d="M404.68 496.79 L407.91 498.49 L404.68 500.19Z" fill="#d6bf57" fill-opacity="0.45" stroke="#d6bf57" stroke-width="0.75"/><rect x="392.13" y="499.49" width="3.40" height="3.40" fill="#6092c0" fill-opacity="0.45" stroke="#6092c0" stroke-width="0.75"/><rect x="408.56" y="500.53" width="3.40" height="3.40" fill="#6092c0" fill-opacity="0.45" stroke="#6092c0" stroke-width="0.75"/><circle cx="422.81" cy="499.73" r="1.70" fill="#9170b8" fill-opacity="0.45" stroke="#9170b8" stroke-width="0.75"/><circle cx="423.30" cy="500.10" r="1.70" fill="#54b399" fill-opacity="0.45" stroke="#54b399" stroke-width="0.75"/><circle cx="400.19" cy="500.15" r="1.70" fill="#54b399" fill-opacity="0.45" stroke="#54b399" stroke-width="0.75"/><circle cx="417.48" cy="496.65" r="1.70" fill="#9170b8" fill-opacity="0.45" stroke="#9170b8" stroke-width="0.75"/><rect x="399.53" y="495.38" width="3.40" height="3.40" fill="#6092c0" fill-opacity="0.45" stroke="#6092c0" stroke-width="0.75"/><circle cx="418.82" cy="503.54" r="1.70" fill="#9170b8" fill-opacity="0.45" stroke="#9170b8" stroke-width="0.75"/><circle cx="407.95" cy="503.77" r="1.70" fill="#54b399" fill-opacity="0.45" stroke="#54b399" stroke-width="0.75"/><path d="M401.02 496.45 L404.25 498.15 L401.02 499.85Z" fill="#d6bf57" fill-opacity="0.45" stroke="#d6bf57" stroke-width="0.75"/><path d="M384.14 498.45 L385.84 501.68 L382.44 501.68Z" fill="#d36086" fill-opacity="0.45" stroke="#d36086" stroke-width="0.75"/><circle cx="422.90" cy="502.24" r="1.70" fill="#9170b8" fill-opacity="0.45" stroke="#9170b8" stroke-width="0.75"/><circle cx="385.38" cy="505.77" r="1.70" fill="#9170b8" fill-opacity="0.45" stroke="#9170b8" stroke-width="0.75"/><rect x="396.56" y="494.81" width="3.40" height="3.40" fill="#6092c0" fill-opacity="0.45" stroke="#6092c0" stroke-width="0.75"/><circle cx="387.36" cy="499.43" r="1.70" fill="#9170b8" fill-opacity="0.45" stroke="#9170b8" stroke-width="0.75"/><circle cx="393.93" cy="504.65" r="1.70" fill="#54b399" fill-opacity="0.45" stroke="#54b399" stroke-width="0.75"/><rect x="392.87" y="495.74" width="3.40" height="3.40" fill="#6092c0" fill-opacity="0.45" stroke="#6092c0" stroke-width="0.75"/><circle cx="464.78" cy="500.64" r="1.70" fill="#9170b8" fill-opacity="0.45" stroke="#9170b8" stroke-width="0.75"/><path d="M455.74 496.90 L457.44 498.94 L455.74 500.98 L454.04 498.94Z" fill="#ca8eae" fill-opacity="0.45" stroke="#ca8eae" stroke-width="0.75"/><rect x="471.60" y="496.43" width="3.40" height="3.40" fill="#6092c0" fill-opacity="0.45" stroke="#6092c0" stroke-width="0.75"/><path d="M469.10 502.37 L472.33 504.07 L469.10 505.77Z" fill="#d6bf57" fill-opacity="0.45" stroke="#d6bf57" stroke-width="0.75"/><circle cx="450.78" cy="504.10" r="1.70" fill="#54b399" fill-opacity="0.45" stroke="#54b399" stroke-width="0.75"/><path d="M447.40 503.23 L449.10 505.27 L447.40 507.31 L445.70 505.27Z" fill="#ca8eae" fill-opacity="0.45" stroke="#ca8eae" stroke-width="0.75"/><path d="M466.07 502.17 L467.77 504.21 L466.07 506.25 L464.37 504.21Z" fill="#ca8eae" fill-opacity="0.45" stroke="#ca8eae" stroke-width="0.75"/><path d="M450.46 499.96 L452.16 502.00 L450.46 504.04 L448.76 502.00Z" fill="#ca8eae" fill-opacity="0.45" stroke="#ca8eae" stroke-width="0.75"/><circle cx="464.19" cy="505.04" r="1.70" fill="#54b399" fill-opacity="0.45" stroke="#54b399" stroke-width="0.75"/><circle cx="472.45" cy="502.63" r="1.70" fill="#9170b8" fill-opacity="0.45" stroke="#9170b8" stroke-width="0.75"/><path d="M448.72 495.07 L450.42 498.30 L447.02 498.30Z" fill="#d36086" fill-opacity="0.45" stroke="#d36086" stroke-width="0.75"/><path d="M475.34 498.75 L478.57 500.45 L475.34 502.15Z" fill="#d6bf57" fill-opacity="0.45" stroke="#d6bf57" stroke-width="0.75"/><path d="M463.87 501.05 L465.57 503.09 L463.87 505.13 L462.17 503.09Z" fill="#ca8eae" fill-opacity="0.45" stroke="#ca8eae" stroke-width="0.75"/><circle cx="467.78" cy="501.64" r="1.70" fill="#54b399" fill-opacity="0.45" stroke="#54b399" stroke-width="0.75"/><path d="M460.62 495.20 L462.32 497.24 L460.62 499.28 L458.92 497.24Z" fill="#ca8eae" fill-opacity="0.45" stroke="#ca8eae" stroke-width="0.75"/><path d="M474.73 495.43 L476.43 497.47 L474.73 499.51 L473.03 497.47Z" fill="#ca8eae" fill-opacity="0.45" stroke="#ca8eae" stroke-width="0.75"/><circle cx="448.11" cy="504.24" r="1.70" fill="#9170b8" fill-opacity="0.45" stroke="#9170b8" stroke-width="0.75"/><circle cx="471.90" cy="505.38" r="1.70" fill="#9170b8" fill-opacity="0.45" stroke="#9170b8" stroke-width="0.75"/><text x="483.60" y="441.80" font-size="6.0" fill="#454b55" text-anchor="start" font-weight="bold"  textLength="21.91" lengthAdjust="spacingAndGlyphs">File type</text><circle cx="486.30" cy="447.50" r="2.30" fill="#54b399" fill-opacity="0" stroke="#54b399" stroke-width="0.7"/><rect x="484.00" y="453.00" width="4.60" height="4.60" fill="#6092c0" fill-opacity="0" stroke="#6092c0" stroke-width="0.7"/><text x="491.40" y="457.00" font-size="5.0" fill="#69707d" text-anchor="start" font-weight="normal" >css</text><path d="M486.30 460.27 L488.60 464.64 L484.00 464.64Z" fill="#d36086" fill-opacity="0" stroke="#d36086" stroke-width="0.7"/><text x="491.40" y="464.50" font-size="5.0" fill="#69707d" text-anchor="start" font-weight="normal" >deb</text><circle cx="486.30" cy="470.00" r="2.30" fill="#9170b8" fill-opacity="0" stroke="#9170b8" stroke-width="0.7"/><text x="491.40" y="471.70" font-size="5.0" fill="#69707d" text-anchor="start" font-weight="normal" >gz</text><path d="M486.30 474.54 L488.60 477.30 L486.30 480.06 L484.00 477.30Z" fill="#ca8eae" fill-opacity="0" stroke="#ca8eae" stroke-width="0.7"/><text x="491.40" y="479.00" font-size="5.0" fill="#69707d" text-anchor="start" font-weight="normal" >rpm</text><path d="M484.46 482.80 L488.83 485.10 L484.46 487.40Z" fill="#d6bf57" fill-opacity="0" stroke="#d6bf57" stroke-width="0.7"/><text x="491.40" y="486.80" font-size="5.0" fill="#69707d" text-anchor="start" font-weight="normal" >zip</text><line x1="523.8" y1="452.5" x2="901.8" y2="452.5" stroke="#e6e9ed" stroke-width="0.6"/><line x1="523.8" y1="468.9" x2="901.8" y2="468.9" stroke="#e6e9ed" stroke-width="0.6"/><line x1="523.8" y1="485.3" x2="901.8" y2="485.3" stroke="#e6e9ed" stroke-width="0.6"/><line x1="523.8" y1="501.7" x2="901.8" y2="501.7" stroke="#e6e9ed" stroke-width="0.6"/><text x="527.40" y="446.50" font-size="5.9" fill="#41474f" text-anchor="start" font-weight="bold"  textLength="12.3" lengthAdjust="spacingAndGlyphs">Type</text><path d="M544.3 446.7 V442.1 M542.5 443.8 L544.3 442 L546.1 443.8" fill="none" stroke="#7d838d" stroke-width="0.6"/><text x="576.90" y="446.50" font-size="5.9" fill="#41474f" text-anchor="start" font-weight="bold"  textLength="31.8" lengthAdjust="spacingAndGlyphs">Bytes (Total)</text><text x="637.10" y="446.50" font-size="5.9" fill="#41474f" text-anchor="start" font-weight="bold"  textLength="43.8" lengthAdjust="spacingAndGlyphs">Bytes (Last Hour)</text><text x="722.20" y="446.50" font-size="5.9" fill="#41474f" text-anchor="start" font-weight="bold"  textLength="50.8" lengthAdjust="spacingAndGlyphs">Unique Visits (Total)</text><text x="810.00" y="446.50" font-size="5.9" fill="#41474f" text-anchor="start" font-weight="bold"  textLength="62.8" lengthAdjust="spacingAndGlyphs">Unique Visits (Last Hour)</text><text x="616.70" y="462.40" font-size="6.9" fill="#6f7580" text-anchor="end" font-weight="normal"  textLength="10.2" lengthAdjust="spacingAndGlyphs" font-family="Liberation Serif">3MB</text><text x="702.50" y="462.40" font-size="6.9" fill="#6f7580" text-anchor="end" font-weight="normal"  textLength="16.8" lengthAdjust="spacingAndGlyphs" font-family="Liberation Serif">59.2KB</text><text x="774.90" y="462.40" font-size="6.9" fill="#e7664c" text-anchor="end" font-weight="normal"  textLength="8.2" lengthAdjust="spacingAndGlyphs" font-family="Liberation Serif">605</text><path d="M781.2 457.70000000000005 V462.40000000000003 M779.3000000000001 460.6 L781.2 462.5 L783.1 460.6" fill="none" stroke="#69707d" stroke-width="0.65"/><text x="886.60" y="462.40" font-size="6.9" fill="#e7664c" text-anchor="end" font-weight="normal"  textLength="2.7" lengthAdjust="spacingAndGlyphs" font-family="Liberation Serif">9</text><path d="M893.9 462.5 V457.8 M892.0 459.6 L893.9 457.70000000000005 L895.8 459.6" fill="none" stroke="#69707d" stroke-width="0.65"/><text x="527.50" y="479.30" font-size="6.9" fill="#6f7580" text-anchor="start" font-weight="normal"  textLength="5.5" lengthAdjust="spacingAndGlyphs" font-family="Liberation Serif">gz</text><text x="616.70" y="479.30" font-size="6.9" fill="#6f7580" text-anchor="end" font-weight="normal"  textLength="14.6" lengthAdjust="spacingAndGlyphs" font-family="Liberation Serif">1.6MB</text><text x="702.50" y="479.30" font-size="6.9" fill="#6f7580" text-anchor="end" font-weight="normal"  textLength="13.5" lengthAdjust="spacingAndGlyphs" font-family="Liberation Serif">1.7KB</text><text x="774.90" y="479.30" font-size="6.9" fill="#e7664c" text-anchor="end" font-weight="normal"  textLength="8.2" lengthAdjust="spacingAndGlyphs" font-family="Liberation Serif">278</text><path d="M781.2 474.6 V479.3 M779.3000000000001 477.5 L781.2 479.4 L783.1 477.5" fill="none" stroke="#69707d" stroke-width="0.65"/><text x="886.60" y="479.30" font-size="6.9" fill="#e7664c" text-anchor="end" font-weight="normal"  textLength="2.7" lengthAdjust="spacingAndGlyphs" font-family="Liberation Serif">1</text><path d="M893.9 474.6 V479.3 M892.0 477.5 L893.9 479.4 L895.8 477.5" fill="none" stroke="#69707d" stroke-width="0.65"/><text x="527.50" y="495.70" font-size="6.9" fill="#6f7580" text-anchor="start" font-weight="normal"  textLength="7.2" lengthAdjust="spacingAndGlyphs" font-family="Liberation Serif">css</text><text x="616.70" y="495.70" font-size="6.9" fill="#6f7580" text-anchor="end" font-weight="normal"  textLength="14.6" lengthAdjust="spacingAndGlyphs" font-family="Liberation Serif">1.3MB</text><text x="702.50" y="495.70" font-size="6.9" fill="#6f7580" text-anchor="end" font-weight="normal"  textLength="13.5" lengthAdjust="spacingAndGlyphs" font-family="Liberation Serif">3.2KB</text><text x="774.90" y="495.70" font-size="6.9" fill="#e7664c" text-anchor="end" font-weight="normal"  textLength="8.2" lengthAdjust="spacingAndGlyphs" font-family="Liberation Serif">260</text><path d="M781.2 491.0 V495.7 M779.3000000000001 493.9 L781.2 495.79999999999995 L783.1 493.9" fill="none" stroke="#69707d" stroke-width="0.65"/><text x="886.60" y="495.70" font-size="6.9" fill="#e7664c" text-anchor="end" font-weight="normal"  textLength="2.7" lengthAdjust="spacingAndGlyphs" font-family="Liberation Serif">2</text><path d="M893.9 491.0 V495.7 M892.0 493.9 L893.9 495.79999999999995 L895.8 493.9" fill="none" stroke="#69707d" stroke-width="0.65"/></svg><div class=a style='left:0;top:507px;width:914px;height:1px;background:#000'></div></body></html>
